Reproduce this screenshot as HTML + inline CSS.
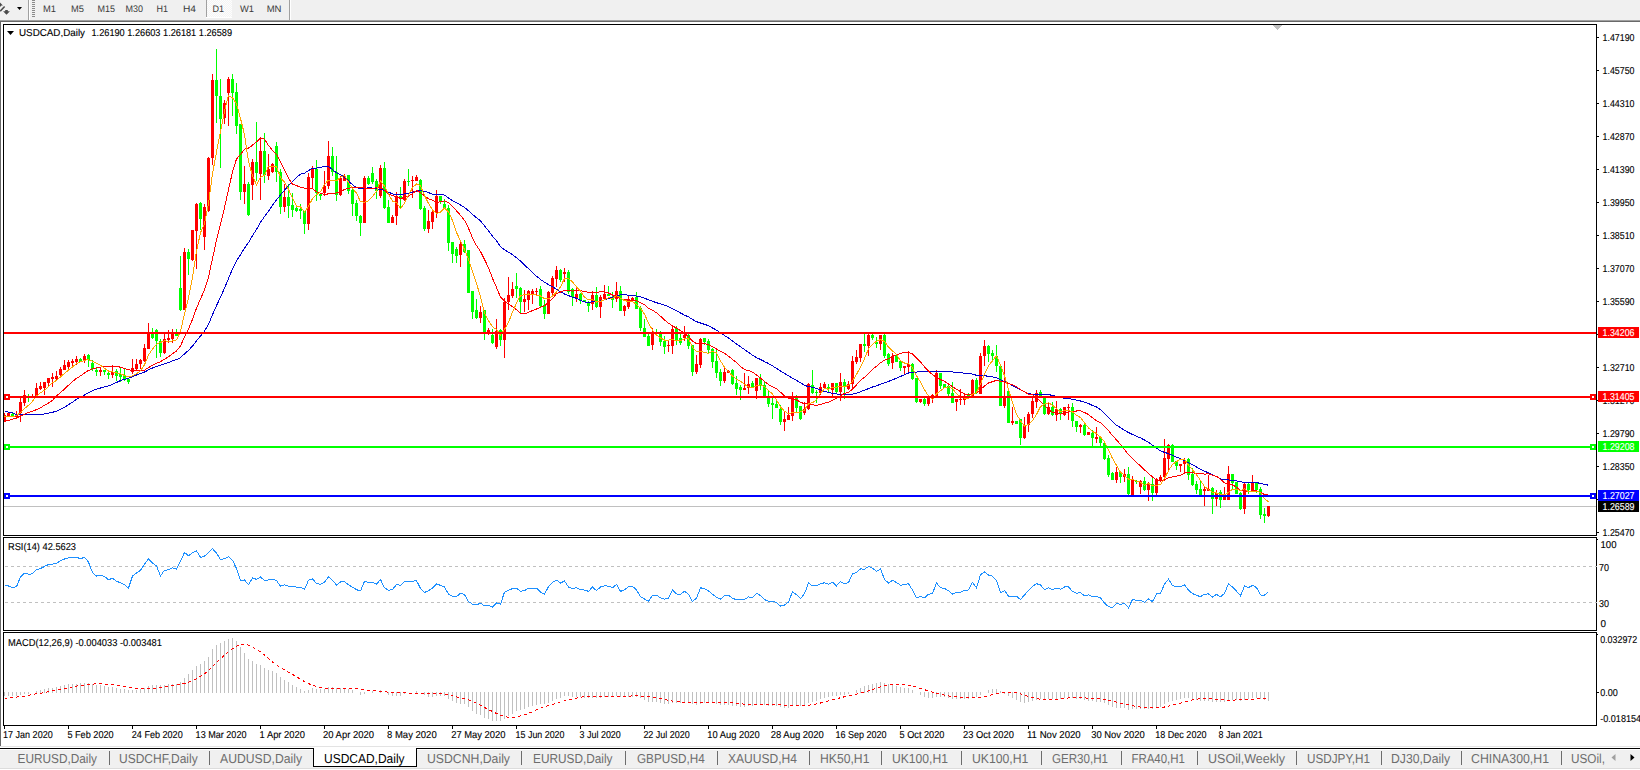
<!DOCTYPE html>
<html><head><meta charset="utf-8"><title>USDCAD,Daily</title>
<style>html,body{margin:0;padding:0;background:#fff;overflow:hidden}svg{display:block}text{font-family:"Liberation Sans",sans-serif;text-rendering:geometricPrecision}</style>
</head><body><svg width="1640" height="770" viewBox="0 0 1640 770" font-family="Liberation Sans, sans-serif"><rect x="0" y="0" width="1640" height="770" fill="#ffffff"/><rect x="0" y="0" width="1640" height="20" fill="#f0f0f0"/><rect x="0" y="20" width="1640" height="1" fill="#a0a0a0"/><rect x="0" y="21" width="1640" height="1" fill="#696969"/><rect x="0" y="21" width="1" height="726" fill="#696969"/><path d="M0 2.6 L2.9 5.6 L1.4 5.6 L0 7 Z" fill="#4a4a4a"/><path d="M0.2 11.2 L4.6 6.4" stroke="#4a4a4a" stroke-width="1.5"/><path d="M5.2 10.1 L7.8 10.1 L7.8 11.2 L9.9 11.2 L6.5 14.8 L3.1 11.2 L5.2 11.2 Z" fill="#4a4a4a"/><path d="M17 7 L22 7 L19.5 10 Z" fill="#000"/><rect x="28" y="0" width="1" height="20" fill="#a0a0a0"/><rect x="29" y="0" width="1" height="20" fill="#ffffff"/><rect x="32" y="0" width="3" height="1" fill="#8a8a8a"/><rect x="32" y="2" width="3" height="1" fill="#8a8a8a"/><rect x="32" y="4" width="3" height="1" fill="#8a8a8a"/><rect x="32" y="6" width="3" height="1" fill="#8a8a8a"/><rect x="32" y="8" width="3" height="1" fill="#8a8a8a"/><rect x="32" y="10" width="3" height="1" fill="#8a8a8a"/><rect x="32" y="12" width="3" height="1" fill="#8a8a8a"/><rect x="32" y="14" width="3" height="1" fill="#8a8a8a"/><rect x="32" y="16" width="3" height="1" fill="#8a8a8a"/><defs><pattern id="chk" width="2" height="2" patternUnits="userSpaceOnUse"><rect width="2" height="2" fill="#f4f4f4"/><rect width="1" height="1" fill="#fdfdfd"/><rect x="1" y="1" width="1" height="1" fill="#fdfdfd"/></pattern></defs><rect x="207" y="0" width="25" height="18" fill="url(#chk)"/><rect x="206" y="0" width="1" height="18" fill="#a0a0a0"/><rect x="206" y="17" width="26" height="1" fill="#ffffff"/><rect x="289" y="0" width="1" height="20" fill="#a0a0a0"/><rect x="290" y="0" width="1" height="20" fill="#ffffff"/><text x="43" y="12" font-size="9.5" fill="#3a3a3a" textLength="13" lengthAdjust="spacingAndGlyphs" >M1</text><text x="71" y="12" font-size="9.5" fill="#3a3a3a" textLength="13" lengthAdjust="spacingAndGlyphs" >M5</text><text x="97.5" y="12" font-size="9.5" fill="#3a3a3a" textLength="17.5" lengthAdjust="spacingAndGlyphs" >M15</text><text x="125.5" y="12" font-size="9.5" fill="#3a3a3a" textLength="17.5" lengthAdjust="spacingAndGlyphs" >M30</text><text x="156.5" y="12" font-size="9.5" fill="#3a3a3a" textLength="11.5" lengthAdjust="spacingAndGlyphs" >H1</text><text x="183" y="12" font-size="9.5" fill="#3a3a3a" textLength="13" lengthAdjust="spacingAndGlyphs" >H4</text><text x="212.5" y="12" font-size="9.5" fill="#3a3a3a" textLength="11.5" lengthAdjust="spacingAndGlyphs" >D1</text><text x="240" y="12" font-size="9.5" fill="#3a3a3a" textLength="14" lengthAdjust="spacingAndGlyphs" >W1</text><text x="266.7" y="12" font-size="9.5" fill="#3a3a3a" textLength="14.8" lengthAdjust="spacingAndGlyphs" >MN</text><rect x="3" y="24" width="1594" height="1" fill="#000"/><rect x="3" y="535" width="1594" height="1" fill="#000"/><rect x="3" y="24" width="1" height="512" fill="#000"/><rect x="1596" y="24" width="1" height="512" fill="#000"/><rect x="3" y="537" width="1594" height="1" fill="#000"/><rect x="3" y="630" width="1594" height="1" fill="#000"/><rect x="3" y="537" width="1" height="94" fill="#000"/><rect x="1596" y="537" width="1" height="94" fill="#000"/><rect x="3" y="632" width="1594" height="1" fill="#000"/><rect x="3" y="725" width="1594" height="1" fill="#000"/><rect x="3" y="632" width="1" height="94" fill="#000"/><rect x="1596" y="632" width="1" height="94" fill="#000"/><defs><clipPath id="cm"><rect x="4" y="25" width="1592" height="510"/></clipPath><clipPath id="cr"><rect x="4" y="538" width="1592" height="92"/></clipPath><clipPath id="cd"><rect x="4" y="633" width="1592" height="92"/></clipPath></defs><g clip-path="url(#cm)" shape-rendering="crispEdges"><rect x="4" y="506" width="1593" height="1" fill="#c0c0c0"/><rect x="4" y="413" width="1" height="9" fill="#ff0000"/><rect x="3" y="415" width="3" height="6" fill="#ff0000"/><rect x="8" y="413" width="1" height="3" fill="#ff0000"/><rect x="7" y="413" width="3" height="3" fill="#ff0000"/><rect x="12" y="412" width="1" height="5" fill="#00ff00"/><rect x="11" y="414" width="3" height="3" fill="#00ff00"/><rect x="16" y="411" width="1" height="8" fill="#ff0000"/><rect x="15" y="415" width="3" height="2" fill="#ff0000"/><rect x="20" y="398" width="1" height="24" fill="#ff0000"/><rect x="19" y="402" width="3" height="11" fill="#ff0000"/><rect x="24" y="390" width="1" height="16" fill="#ff0000"/><rect x="23" y="395" width="3" height="8" fill="#ff0000"/><rect x="28" y="394" width="1" height="8" fill="#00ff00"/><rect x="27" y="396" width="3" height="1" fill="#00ff00"/><rect x="32" y="394" width="1" height="3" fill="#ff0000"/><rect x="31" y="396" width="3" height="1" fill="#ff0000"/><rect x="36" y="383" width="1" height="13" fill="#ff0000"/><rect x="35" y="388" width="3" height="8" fill="#ff0000"/><rect x="40" y="382" width="1" height="8" fill="#ff0000"/><rect x="39" y="386" width="3" height="3" fill="#ff0000"/><rect x="44" y="382" width="1" height="13" fill="#ff0000"/><rect x="43" y="382" width="3" height="6" fill="#ff0000"/><rect x="48" y="378" width="1" height="8" fill="#ff0000"/><rect x="47" y="378" width="3" height="5" fill="#ff0000"/><rect x="52" y="373" width="1" height="14" fill="#ff0000"/><rect x="51" y="377" width="3" height="2" fill="#ff0000"/><rect x="56" y="371" width="1" height="9" fill="#ff0000"/><rect x="55" y="376" width="3" height="3" fill="#ff0000"/><rect x="60" y="367" width="1" height="9" fill="#ff0000"/><rect x="59" y="369" width="3" height="6" fill="#ff0000"/><rect x="64" y="360" width="1" height="10" fill="#ff0000"/><rect x="63" y="365" width="3" height="5" fill="#ff0000"/><rect x="68" y="360" width="1" height="10" fill="#ff0000"/><rect x="67" y="362" width="3" height="5" fill="#ff0000"/><rect x="72" y="359" width="1" height="8" fill="#ff0000"/><rect x="71" y="361" width="3" height="2" fill="#ff0000"/><rect x="76" y="356" width="1" height="9" fill="#ff0000"/><rect x="75" y="359" width="3" height="3" fill="#ff0000"/><rect x="80" y="358" width="1" height="4" fill="#00ff00"/><rect x="79" y="359" width="3" height="3" fill="#00ff00"/><rect x="84" y="354" width="1" height="9" fill="#ff0000"/><rect x="83" y="356" width="3" height="4" fill="#ff0000"/><rect x="88" y="354" width="1" height="13" fill="#00ff00"/><rect x="87" y="355" width="3" height="5" fill="#00ff00"/><rect x="92" y="360" width="1" height="11" fill="#00ff00"/><rect x="91" y="363" width="3" height="6" fill="#00ff00"/><rect x="96" y="367" width="1" height="9" fill="#00ff00"/><rect x="95" y="370" width="3" height="2" fill="#00ff00"/><rect x="100" y="367" width="1" height="9" fill="#ff0000"/><rect x="99" y="370" width="3" height="2" fill="#ff0000"/><rect x="104" y="370" width="1" height="5" fill="#00ff00"/><rect x="103" y="370" width="3" height="2" fill="#00ff00"/><rect x="108" y="372" width="1" height="7" fill="#00ff00"/><rect x="107" y="373" width="3" height="2" fill="#00ff00"/><rect x="112" y="365" width="1" height="13" fill="#ff0000"/><rect x="111" y="372" width="3" height="3" fill="#ff0000"/><rect x="116" y="369" width="1" height="12" fill="#00ff00"/><rect x="115" y="371" width="3" height="5" fill="#00ff00"/><rect x="120" y="368" width="1" height="14" fill="#00ff00"/><rect x="119" y="374" width="3" height="3" fill="#00ff00"/><rect x="124" y="369" width="1" height="12" fill="#00ff00"/><rect x="123" y="376" width="3" height="3" fill="#00ff00"/><rect x="128" y="378" width="1" height="6" fill="#00ff00"/><rect x="127" y="379" width="3" height="3" fill="#00ff00"/><rect x="132" y="359" width="1" height="15" fill="#ff0000"/><rect x="131" y="368" width="3" height="4" fill="#ff0000"/><rect x="136" y="359" width="1" height="11" fill="#ff0000"/><rect x="135" y="364" width="3" height="5" fill="#ff0000"/><rect x="140" y="359" width="1" height="10" fill="#ff0000"/><rect x="139" y="360" width="3" height="4" fill="#ff0000"/><rect x="144" y="344" width="1" height="18" fill="#ff0000"/><rect x="143" y="348" width="3" height="13" fill="#ff0000"/><rect x="148" y="323" width="1" height="26" fill="#ff0000"/><rect x="147" y="333" width="3" height="16" fill="#ff0000"/><rect x="152" y="328" width="1" height="11" fill="#00ff00"/><rect x="151" y="334" width="3" height="4" fill="#00ff00"/><rect x="156" y="329" width="1" height="29" fill="#00ff00"/><rect x="155" y="330" width="3" height="11" fill="#00ff00"/><rect x="160" y="339" width="1" height="18" fill="#00ff00"/><rect x="159" y="341" width="3" height="12" fill="#00ff00"/><rect x="164" y="334" width="1" height="20" fill="#ff0000"/><rect x="163" y="339" width="3" height="14" fill="#ff0000"/><rect x="168" y="330" width="1" height="13" fill="#ff0000"/><rect x="167" y="338" width="3" height="2" fill="#ff0000"/><rect x="172" y="329" width="1" height="14" fill="#ff0000"/><rect x="171" y="333" width="3" height="6" fill="#ff0000"/><rect x="176" y="329" width="1" height="7" fill="#00ff00"/><rect x="175" y="333" width="3" height="3" fill="#00ff00"/><rect x="180" y="256" width="1" height="55" fill="#00ff00"/><rect x="179" y="288" width="3" height="22" fill="#00ff00"/><rect x="184" y="248" width="1" height="62" fill="#ff0000"/><rect x="183" y="252" width="3" height="58" fill="#ff0000"/><rect x="188" y="249" width="1" height="26" fill="#00ff00"/><rect x="187" y="252" width="3" height="7" fill="#00ff00"/><rect x="192" y="230" width="1" height="31" fill="#ff0000"/><rect x="191" y="230" width="3" height="30" fill="#ff0000"/><rect x="196" y="203" width="1" height="66" fill="#ff0000"/><rect x="195" y="204" width="3" height="27" fill="#ff0000"/><rect x="200" y="202" width="1" height="28" fill="#00ff00"/><rect x="199" y="203" width="3" height="16" fill="#00ff00"/><rect x="204" y="204" width="1" height="46" fill="#ff0000"/><rect x="203" y="207" width="3" height="30" fill="#ff0000"/><rect x="208" y="157" width="1" height="55" fill="#ff0000"/><rect x="207" y="158" width="3" height="53" fill="#ff0000"/><rect x="212" y="74" width="1" height="91" fill="#ff0000"/><rect x="211" y="80" width="3" height="78" fill="#ff0000"/><rect x="216" y="49" width="1" height="74" fill="#00ff00"/><rect x="215" y="80" width="3" height="16" fill="#00ff00"/><rect x="220" y="79" width="1" height="89" fill="#00ff00"/><rect x="219" y="96" width="3" height="23" fill="#00ff00"/><rect x="224" y="100" width="1" height="24" fill="#ff0000"/><rect x="223" y="103" width="3" height="15" fill="#ff0000"/><rect x="228" y="77" width="1" height="49" fill="#ff0000"/><rect x="227" y="79" width="3" height="14" fill="#ff0000"/><rect x="232" y="74" width="1" height="42" fill="#00ff00"/><rect x="231" y="79" width="3" height="14" fill="#00ff00"/><rect x="236" y="83" width="1" height="51" fill="#00ff00"/><rect x="235" y="92" width="3" height="34" fill="#00ff00"/><rect x="240" y="124" width="1" height="76" fill="#00ff00"/><rect x="239" y="124" width="3" height="68" fill="#00ff00"/><rect x="244" y="166" width="1" height="38" fill="#ff0000"/><rect x="243" y="184" width="3" height="8" fill="#ff0000"/><rect x="248" y="182" width="1" height="34" fill="#00ff00"/><rect x="247" y="184" width="3" height="31" fill="#00ff00"/><rect x="252" y="159" width="1" height="41" fill="#ff0000"/><rect x="251" y="162" width="3" height="23" fill="#ff0000"/><rect x="256" y="122" width="1" height="59" fill="#00ff00"/><rect x="255" y="162" width="3" height="11" fill="#00ff00"/><rect x="260" y="137" width="1" height="63" fill="#ff0000"/><rect x="259" y="151" width="3" height="23" fill="#ff0000"/><rect x="264" y="133" width="1" height="50" fill="#00ff00"/><rect x="263" y="151" width="3" height="24" fill="#00ff00"/><rect x="268" y="154" width="1" height="26" fill="#ff0000"/><rect x="267" y="169" width="3" height="7" fill="#ff0000"/><rect x="272" y="163" width="1" height="10" fill="#ff0000"/><rect x="271" y="164" width="3" height="8" fill="#ff0000"/><rect x="276" y="142" width="1" height="40" fill="#00ff00"/><rect x="275" y="146" width="3" height="26" fill="#00ff00"/><rect x="280" y="169" width="1" height="45" fill="#00ff00"/><rect x="279" y="172" width="3" height="35" fill="#00ff00"/><rect x="284" y="184" width="1" height="28" fill="#ff0000"/><rect x="283" y="197" width="3" height="10" fill="#ff0000"/><rect x="288" y="184" width="1" height="34" fill="#00ff00"/><rect x="287" y="197" width="3" height="9" fill="#00ff00"/><rect x="292" y="193" width="1" height="24" fill="#00ff00"/><rect x="291" y="205" width="3" height="5" fill="#00ff00"/><rect x="296" y="206" width="1" height="6" fill="#00ff00"/><rect x="295" y="208" width="3" height="3" fill="#00ff00"/><rect x="300" y="204" width="1" height="15" fill="#00ff00"/><rect x="299" y="209" width="3" height="2" fill="#00ff00"/><rect x="304" y="211" width="1" height="23" fill="#00ff00"/><rect x="303" y="211" width="3" height="13" fill="#00ff00"/><rect x="308" y="173" width="1" height="57" fill="#ff0000"/><rect x="307" y="177" width="3" height="47" fill="#ff0000"/><rect x="312" y="166" width="1" height="23" fill="#ff0000"/><rect x="311" y="169" width="3" height="9" fill="#ff0000"/><rect x="316" y="160" width="1" height="41" fill="#00ff00"/><rect x="315" y="169" width="3" height="24" fill="#00ff00"/><rect x="320" y="194" width="1" height="6" fill="#00ff00"/><rect x="319" y="194" width="3" height="2" fill="#00ff00"/><rect x="324" y="171" width="1" height="25" fill="#ff0000"/><rect x="323" y="186" width="3" height="7" fill="#ff0000"/><rect x="328" y="141" width="1" height="48" fill="#ff0000"/><rect x="327" y="156" width="3" height="30" fill="#ff0000"/><rect x="332" y="147" width="1" height="29" fill="#00ff00"/><rect x="331" y="156" width="3" height="16" fill="#00ff00"/><rect x="336" y="156" width="1" height="45" fill="#00ff00"/><rect x="335" y="172" width="3" height="23" fill="#00ff00"/><rect x="340" y="176" width="1" height="20" fill="#ff0000"/><rect x="339" y="178" width="3" height="17" fill="#ff0000"/><rect x="344" y="174" width="1" height="7" fill="#ff0000"/><rect x="343" y="176" width="3" height="5" fill="#ff0000"/><rect x="348" y="175" width="1" height="19" fill="#00ff00"/><rect x="347" y="175" width="3" height="16" fill="#00ff00"/><rect x="352" y="189" width="1" height="27" fill="#00ff00"/><rect x="351" y="190" width="3" height="14" fill="#00ff00"/><rect x="356" y="200" width="1" height="21" fill="#00ff00"/><rect x="355" y="203" width="3" height="13" fill="#00ff00"/><rect x="360" y="215" width="1" height="21" fill="#00ff00"/><rect x="359" y="216" width="3" height="7" fill="#00ff00"/><rect x="364" y="176" width="1" height="47" fill="#ff0000"/><rect x="363" y="178" width="3" height="45" fill="#ff0000"/><rect x="368" y="176" width="1" height="9" fill="#00ff00"/><rect x="367" y="178" width="3" height="6" fill="#00ff00"/><rect x="372" y="167" width="1" height="17" fill="#00ff00"/><rect x="371" y="173" width="3" height="9" fill="#00ff00"/><rect x="376" y="179" width="1" height="20" fill="#00ff00"/><rect x="375" y="181" width="3" height="10" fill="#00ff00"/><rect x="380" y="165" width="1" height="33" fill="#ff0000"/><rect x="379" y="168" width="3" height="28" fill="#ff0000"/><rect x="384" y="162" width="1" height="47" fill="#00ff00"/><rect x="383" y="168" width="3" height="40" fill="#00ff00"/><rect x="388" y="200" width="1" height="23" fill="#00ff00"/><rect x="387" y="207" width="3" height="16" fill="#00ff00"/><rect x="392" y="215" width="1" height="8" fill="#ff0000"/><rect x="391" y="217" width="3" height="6" fill="#ff0000"/><rect x="396" y="192" width="1" height="33" fill="#ff0000"/><rect x="395" y="196" width="3" height="20" fill="#ff0000"/><rect x="400" y="187" width="1" height="21" fill="#00ff00"/><rect x="399" y="196" width="3" height="3" fill="#00ff00"/><rect x="404" y="179" width="1" height="22" fill="#ff0000"/><rect x="403" y="181" width="3" height="19" fill="#ff0000"/><rect x="408" y="169" width="1" height="17" fill="#00ff00"/><rect x="407" y="181" width="3" height="1" fill="#00ff00"/><rect x="412" y="176" width="1" height="22" fill="#ff0000"/><rect x="411" y="180" width="3" height="1" fill="#ff0000"/><rect x="416" y="175" width="1" height="6" fill="#ff0000"/><rect x="415" y="177" width="3" height="4" fill="#ff0000"/><rect x="420" y="179" width="1" height="31" fill="#00ff00"/><rect x="419" y="180" width="3" height="29" fill="#00ff00"/><rect x="424" y="206" width="1" height="25" fill="#00ff00"/><rect x="423" y="208" width="3" height="21" fill="#00ff00"/><rect x="428" y="210" width="1" height="23" fill="#ff0000"/><rect x="427" y="221" width="3" height="8" fill="#ff0000"/><rect x="432" y="209" width="1" height="20" fill="#ff0000"/><rect x="431" y="212" width="3" height="10" fill="#ff0000"/><rect x="436" y="190" width="1" height="28" fill="#ff0000"/><rect x="435" y="196" width="3" height="17" fill="#ff0000"/><rect x="440" y="196" width="1" height="8" fill="#00ff00"/><rect x="439" y="196" width="3" height="6" fill="#00ff00"/><rect x="444" y="199" width="1" height="10" fill="#00ff00"/><rect x="443" y="204" width="3" height="5" fill="#00ff00"/><rect x="448" y="205" width="1" height="46" fill="#00ff00"/><rect x="447" y="208" width="3" height="35" fill="#00ff00"/><rect x="452" y="242" width="1" height="21" fill="#00ff00"/><rect x="451" y="242" width="3" height="12" fill="#00ff00"/><rect x="456" y="247" width="1" height="16" fill="#00ff00"/><rect x="455" y="249" width="3" height="7" fill="#00ff00"/><rect x="460" y="242" width="1" height="25" fill="#ff0000"/><rect x="459" y="244" width="3" height="11" fill="#ff0000"/><rect x="464" y="240" width="1" height="13" fill="#00ff00"/><rect x="463" y="244" width="3" height="8" fill="#00ff00"/><rect x="468" y="250" width="1" height="43" fill="#00ff00"/><rect x="467" y="250" width="3" height="43" fill="#00ff00"/><rect x="472" y="291" width="1" height="28" fill="#00ff00"/><rect x="471" y="291" width="3" height="21" fill="#00ff00"/><rect x="476" y="299" width="1" height="20" fill="#00ff00"/><rect x="475" y="310" width="3" height="8" fill="#00ff00"/><rect x="480" y="306" width="1" height="17" fill="#ff0000"/><rect x="479" y="312" width="3" height="6" fill="#ff0000"/><rect x="484" y="310" width="1" height="30" fill="#00ff00"/><rect x="483" y="310" width="3" height="22" fill="#00ff00"/><rect x="488" y="328" width="1" height="7" fill="#ff0000"/><rect x="487" y="330" width="3" height="4" fill="#ff0000"/><rect x="492" y="329" width="1" height="15" fill="#00ff00"/><rect x="491" y="335" width="3" height="8" fill="#00ff00"/><rect x="496" y="319" width="1" height="30" fill="#ff0000"/><rect x="495" y="331" width="3" height="16" fill="#ff0000"/><rect x="500" y="329" width="1" height="17" fill="#00ff00"/><rect x="499" y="330" width="3" height="10" fill="#00ff00"/><rect x="504" y="298" width="1" height="60" fill="#ff0000"/><rect x="503" y="302" width="3" height="38" fill="#ff0000"/><rect x="508" y="277" width="1" height="33" fill="#ff0000"/><rect x="507" y="295" width="3" height="7" fill="#ff0000"/><rect x="512" y="282" width="1" height="16" fill="#ff0000"/><rect x="511" y="289" width="3" height="7" fill="#ff0000"/><rect x="516" y="273" width="1" height="25" fill="#00ff00"/><rect x="515" y="286" width="3" height="3" fill="#00ff00"/><rect x="520" y="287" width="1" height="27" fill="#00ff00"/><rect x="519" y="288" width="3" height="14" fill="#00ff00"/><rect x="524" y="290" width="1" height="22" fill="#ff0000"/><rect x="523" y="299" width="3" height="3" fill="#ff0000"/><rect x="528" y="290" width="1" height="20" fill="#ff0000"/><rect x="527" y="291" width="3" height="9" fill="#ff0000"/><rect x="532" y="289" width="1" height="15" fill="#ff0000"/><rect x="531" y="291" width="3" height="4" fill="#ff0000"/><rect x="536" y="288" width="1" height="7" fill="#ff0000"/><rect x="535" y="291" width="3" height="1" fill="#ff0000"/><rect x="540" y="286" width="1" height="22" fill="#00ff00"/><rect x="539" y="289" width="3" height="17" fill="#00ff00"/><rect x="544" y="300" width="1" height="19" fill="#00ff00"/><rect x="543" y="305" width="3" height="9" fill="#00ff00"/><rect x="548" y="291" width="1" height="23" fill="#ff0000"/><rect x="547" y="292" width="3" height="22" fill="#ff0000"/><rect x="552" y="276" width="1" height="20" fill="#ff0000"/><rect x="551" y="278" width="3" height="15" fill="#ff0000"/><rect x="556" y="266" width="1" height="21" fill="#ff0000"/><rect x="555" y="270" width="3" height="9" fill="#ff0000"/><rect x="560" y="269" width="1" height="13" fill="#00ff00"/><rect x="559" y="270" width="3" height="10" fill="#00ff00"/><rect x="564" y="268" width="1" height="14" fill="#ff0000"/><rect x="563" y="272" width="3" height="2" fill="#ff0000"/><rect x="568" y="270" width="1" height="24" fill="#00ff00"/><rect x="567" y="272" width="3" height="20" fill="#00ff00"/><rect x="572" y="288" width="1" height="18" fill="#00ff00"/><rect x="571" y="289" width="3" height="8" fill="#00ff00"/><rect x="576" y="287" width="1" height="15" fill="#ff0000"/><rect x="575" y="294" width="3" height="5" fill="#ff0000"/><rect x="580" y="293" width="1" height="11" fill="#00ff00"/><rect x="579" y="294" width="3" height="7" fill="#00ff00"/><rect x="584" y="300" width="1" height="2" fill="#00ff00"/><rect x="583" y="300" width="3" height="2" fill="#00ff00"/><rect x="588" y="301" width="1" height="11" fill="#00ff00"/><rect x="587" y="303" width="3" height="3" fill="#00ff00"/><rect x="592" y="291" width="1" height="19" fill="#ff0000"/><rect x="591" y="295" width="3" height="9" fill="#ff0000"/><rect x="596" y="287" width="1" height="21" fill="#00ff00"/><rect x="595" y="295" width="3" height="12" fill="#00ff00"/><rect x="600" y="295" width="1" height="23" fill="#ff0000"/><rect x="599" y="297" width="3" height="10" fill="#ff0000"/><rect x="604" y="285" width="1" height="15" fill="#ff0000"/><rect x="603" y="294" width="3" height="5" fill="#ff0000"/><rect x="608" y="286" width="1" height="10" fill="#00ff00"/><rect x="607" y="294" width="3" height="2" fill="#00ff00"/><rect x="612" y="292" width="1" height="16" fill="#00ff00"/><rect x="611" y="298" width="3" height="2" fill="#00ff00"/><rect x="616" y="282" width="1" height="20" fill="#ff0000"/><rect x="615" y="291" width="3" height="8" fill="#ff0000"/><rect x="620" y="286" width="1" height="25" fill="#00ff00"/><rect x="619" y="291" width="3" height="20" fill="#00ff00"/><rect x="624" y="305" width="1" height="11" fill="#ff0000"/><rect x="623" y="306" width="3" height="5" fill="#ff0000"/><rect x="628" y="296" width="1" height="13" fill="#ff0000"/><rect x="627" y="299" width="3" height="8" fill="#ff0000"/><rect x="632" y="297" width="1" height="4" fill="#ff0000"/><rect x="631" y="298" width="3" height="2" fill="#ff0000"/><rect x="636" y="292" width="1" height="17" fill="#00ff00"/><rect x="635" y="297" width="3" height="12" fill="#00ff00"/><rect x="640" y="306" width="1" height="25" fill="#00ff00"/><rect x="639" y="308" width="3" height="20" fill="#00ff00"/><rect x="644" y="319" width="1" height="18" fill="#00ff00"/><rect x="643" y="328" width="3" height="9" fill="#00ff00"/><rect x="648" y="334" width="1" height="12" fill="#00ff00"/><rect x="647" y="336" width="3" height="10" fill="#00ff00"/><rect x="652" y="328" width="1" height="22" fill="#ff0000"/><rect x="651" y="332" width="3" height="13" fill="#ff0000"/><rect x="656" y="329" width="1" height="6" fill="#00ff00"/><rect x="655" y="332" width="3" height="2" fill="#00ff00"/><rect x="660" y="331" width="1" height="15" fill="#00ff00"/><rect x="659" y="333" width="3" height="9" fill="#00ff00"/><rect x="664" y="336" width="1" height="18" fill="#00ff00"/><rect x="663" y="341" width="3" height="6" fill="#00ff00"/><rect x="668" y="341" width="1" height="11" fill="#ff0000"/><rect x="667" y="345" width="3" height="1" fill="#ff0000"/><rect x="672" y="325" width="1" height="29" fill="#ff0000"/><rect x="671" y="329" width="3" height="17" fill="#ff0000"/><rect x="676" y="326" width="1" height="19" fill="#00ff00"/><rect x="675" y="328" width="3" height="13" fill="#00ff00"/><rect x="680" y="334" width="1" height="11" fill="#00ff00"/><rect x="679" y="338" width="3" height="5" fill="#00ff00"/><rect x="684" y="326" width="1" height="15" fill="#ff0000"/><rect x="683" y="335" width="3" height="3" fill="#ff0000"/><rect x="688" y="334" width="1" height="15" fill="#00ff00"/><rect x="687" y="335" width="3" height="11" fill="#00ff00"/><rect x="692" y="345" width="1" height="31" fill="#00ff00"/><rect x="691" y="345" width="3" height="27" fill="#00ff00"/><rect x="696" y="355" width="1" height="19" fill="#ff0000"/><rect x="695" y="364" width="3" height="8" fill="#ff0000"/><rect x="700" y="338" width="1" height="30" fill="#ff0000"/><rect x="699" y="339" width="3" height="26" fill="#ff0000"/><rect x="704" y="338" width="1" height="7" fill="#00ff00"/><rect x="703" y="338" width="3" height="4" fill="#00ff00"/><rect x="708" y="339" width="1" height="14" fill="#00ff00"/><rect x="707" y="341" width="3" height="9" fill="#00ff00"/><rect x="712" y="348" width="1" height="20" fill="#00ff00"/><rect x="711" y="349" width="3" height="13" fill="#00ff00"/><rect x="716" y="349" width="1" height="29" fill="#00ff00"/><rect x="715" y="361" width="3" height="12" fill="#00ff00"/><rect x="720" y="369" width="1" height="17" fill="#00ff00"/><rect x="719" y="372" width="3" height="9" fill="#00ff00"/><rect x="724" y="368" width="1" height="15" fill="#ff0000"/><rect x="723" y="372" width="3" height="9" fill="#ff0000"/><rect x="728" y="370" width="1" height="3" fill="#ff0000"/><rect x="727" y="371" width="3" height="2" fill="#ff0000"/><rect x="732" y="369" width="1" height="16" fill="#00ff00"/><rect x="731" y="370" width="3" height="14" fill="#00ff00"/><rect x="736" y="376" width="1" height="19" fill="#00ff00"/><rect x="735" y="383" width="3" height="6" fill="#00ff00"/><rect x="740" y="385" width="1" height="15" fill="#00ff00"/><rect x="739" y="387" width="3" height="3" fill="#00ff00"/><rect x="744" y="373" width="1" height="17" fill="#ff0000"/><rect x="743" y="388" width="3" height="2" fill="#ff0000"/><rect x="748" y="376" width="1" height="18" fill="#ff0000"/><rect x="747" y="384" width="3" height="4" fill="#ff0000"/><rect x="752" y="381" width="1" height="6" fill="#00ff00"/><rect x="751" y="383" width="3" height="4" fill="#00ff00"/><rect x="756" y="378" width="1" height="21" fill="#ff0000"/><rect x="755" y="378" width="3" height="13" fill="#ff0000"/><rect x="760" y="374" width="1" height="16" fill="#00ff00"/><rect x="759" y="378" width="3" height="8" fill="#00ff00"/><rect x="764" y="382" width="1" height="16" fill="#00ff00"/><rect x="763" y="385" width="3" height="13" fill="#00ff00"/><rect x="768" y="391" width="1" height="16" fill="#00ff00"/><rect x="767" y="398" width="3" height="6" fill="#00ff00"/><rect x="772" y="398" width="1" height="21" fill="#00ff00"/><rect x="771" y="403" width="3" height="2" fill="#00ff00"/><rect x="776" y="400" width="1" height="8" fill="#00ff00"/><rect x="775" y="404" width="3" height="4" fill="#00ff00"/><rect x="780" y="405" width="1" height="20" fill="#00ff00"/><rect x="779" y="409" width="3" height="13" fill="#00ff00"/><rect x="784" y="412" width="1" height="19" fill="#ff0000"/><rect x="783" y="419" width="3" height="3" fill="#ff0000"/><rect x="788" y="407" width="1" height="13" fill="#ff0000"/><rect x="787" y="415" width="3" height="5" fill="#ff0000"/><rect x="792" y="392" width="1" height="29" fill="#ff0000"/><rect x="791" y="398" width="3" height="18" fill="#ff0000"/><rect x="796" y="395" width="1" height="17" fill="#00ff00"/><rect x="795" y="398" width="3" height="10" fill="#00ff00"/><rect x="800" y="406" width="1" height="14" fill="#00ff00"/><rect x="799" y="406" width="3" height="13" fill="#00ff00"/><rect x="804" y="402" width="1" height="13" fill="#ff0000"/><rect x="803" y="409" width="3" height="4" fill="#ff0000"/><rect x="808" y="383" width="1" height="27" fill="#ff0000"/><rect x="807" y="384" width="3" height="25" fill="#ff0000"/><rect x="812" y="370" width="1" height="24" fill="#00ff00"/><rect x="811" y="385" width="3" height="8" fill="#00ff00"/><rect x="816" y="390" width="1" height="13" fill="#00ff00"/><rect x="815" y="392" width="3" height="1" fill="#00ff00"/><rect x="820" y="383" width="1" height="12" fill="#ff0000"/><rect x="819" y="387" width="3" height="6" fill="#ff0000"/><rect x="824" y="382" width="1" height="7" fill="#ff0000"/><rect x="823" y="384" width="3" height="4" fill="#ff0000"/><rect x="828" y="384" width="1" height="8" fill="#00ff00"/><rect x="827" y="387" width="3" height="2" fill="#00ff00"/><rect x="832" y="383" width="1" height="15" fill="#ff0000"/><rect x="831" y="383" width="3" height="7" fill="#ff0000"/><rect x="836" y="383" width="1" height="11" fill="#00ff00"/><rect x="835" y="383" width="3" height="9" fill="#00ff00"/><rect x="840" y="373" width="1" height="28" fill="#ff0000"/><rect x="839" y="382" width="3" height="10" fill="#ff0000"/><rect x="844" y="379" width="1" height="20" fill="#00ff00"/><rect x="843" y="382" width="3" height="5" fill="#00ff00"/><rect x="848" y="381" width="1" height="9" fill="#ff0000"/><rect x="847" y="384" width="3" height="5" fill="#ff0000"/><rect x="852" y="356" width="1" height="34" fill="#ff0000"/><rect x="851" y="361" width="3" height="23" fill="#ff0000"/><rect x="856" y="350" width="1" height="14" fill="#ff0000"/><rect x="855" y="357" width="3" height="5" fill="#ff0000"/><rect x="860" y="344" width="1" height="18" fill="#ff0000"/><rect x="859" y="344" width="3" height="14" fill="#ff0000"/><rect x="864" y="334" width="1" height="18" fill="#00ff00"/><rect x="863" y="344" width="3" height="2" fill="#00ff00"/><rect x="868" y="334" width="1" height="22" fill="#ff0000"/><rect x="867" y="335" width="3" height="11" fill="#ff0000"/><rect x="872" y="334" width="1" height="6" fill="#00ff00"/><rect x="871" y="335" width="3" height="3" fill="#00ff00"/><rect x="876" y="337" width="1" height="11" fill="#00ff00"/><rect x="875" y="342" width="3" height="2" fill="#00ff00"/><rect x="880" y="335" width="1" height="15" fill="#ff0000"/><rect x="879" y="335" width="3" height="9" fill="#ff0000"/><rect x="884" y="334" width="1" height="24" fill="#00ff00"/><rect x="883" y="335" width="3" height="21" fill="#00ff00"/><rect x="888" y="353" width="1" height="13" fill="#00ff00"/><rect x="887" y="354" width="3" height="10" fill="#00ff00"/><rect x="892" y="353" width="1" height="16" fill="#ff0000"/><rect x="891" y="356" width="3" height="7" fill="#ff0000"/><rect x="896" y="355" width="1" height="7" fill="#00ff00"/><rect x="895" y="356" width="3" height="6" fill="#00ff00"/><rect x="900" y="360" width="1" height="11" fill="#00ff00"/><rect x="899" y="361" width="3" height="7" fill="#00ff00"/><rect x="904" y="366" width="1" height="8" fill="#ff0000"/><rect x="903" y="366" width="3" height="2" fill="#ff0000"/><rect x="908" y="351" width="1" height="22" fill="#ff0000"/><rect x="907" y="364" width="3" height="3" fill="#ff0000"/><rect x="912" y="363" width="1" height="17" fill="#00ff00"/><rect x="911" y="364" width="3" height="15" fill="#00ff00"/><rect x="916" y="378" width="1" height="25" fill="#00ff00"/><rect x="915" y="378" width="3" height="24" fill="#00ff00"/><rect x="920" y="399" width="1" height="4" fill="#ff0000"/><rect x="919" y="399" width="3" height="3" fill="#ff0000"/><rect x="924" y="398" width="1" height="8" fill="#00ff00"/><rect x="923" y="399" width="3" height="5" fill="#00ff00"/><rect x="928" y="395" width="1" height="11" fill="#ff0000"/><rect x="927" y="397" width="3" height="7" fill="#ff0000"/><rect x="932" y="394" width="1" height="9" fill="#ff0000"/><rect x="931" y="395" width="3" height="3" fill="#ff0000"/><rect x="936" y="370" width="1" height="27" fill="#ff0000"/><rect x="935" y="373" width="3" height="23" fill="#ff0000"/><rect x="940" y="373" width="1" height="16" fill="#00ff00"/><rect x="939" y="373" width="3" height="13" fill="#00ff00"/><rect x="944" y="384" width="1" height="4" fill="#00ff00"/><rect x="943" y="384" width="3" height="4" fill="#00ff00"/><rect x="948" y="385" width="1" height="11" fill="#00ff00"/><rect x="947" y="386" width="3" height="8" fill="#00ff00"/><rect x="952" y="382" width="1" height="21" fill="#00ff00"/><rect x="951" y="393" width="3" height="10" fill="#00ff00"/><rect x="956" y="399" width="1" height="12" fill="#ff0000"/><rect x="955" y="399" width="3" height="3" fill="#ff0000"/><rect x="960" y="389" width="1" height="16" fill="#ff0000"/><rect x="959" y="399" width="3" height="1" fill="#ff0000"/><rect x="964" y="394" width="1" height="11" fill="#ff0000"/><rect x="963" y="396" width="3" height="4" fill="#ff0000"/><rect x="968" y="393" width="1" height="3" fill="#00ff00"/><rect x="967" y="394" width="3" height="2" fill="#00ff00"/><rect x="972" y="379" width="1" height="18" fill="#ff0000"/><rect x="971" y="380" width="3" height="16" fill="#ff0000"/><rect x="976" y="378" width="1" height="16" fill="#00ff00"/><rect x="975" y="380" width="3" height="13" fill="#00ff00"/><rect x="980" y="353" width="1" height="41" fill="#ff0000"/><rect x="979" y="356" width="3" height="38" fill="#ff0000"/><rect x="984" y="340" width="1" height="26" fill="#ff0000"/><rect x="983" y="346" width="3" height="10" fill="#ff0000"/><rect x="988" y="345" width="1" height="17" fill="#00ff00"/><rect x="987" y="346" width="3" height="8" fill="#00ff00"/><rect x="992" y="350" width="1" height="11" fill="#00ff00"/><rect x="991" y="353" width="3" height="3" fill="#00ff00"/><rect x="996" y="345" width="1" height="27" fill="#00ff00"/><rect x="995" y="356" width="3" height="10" fill="#00ff00"/><rect x="1000" y="366" width="1" height="40" fill="#00ff00"/><rect x="999" y="366" width="3" height="40" fill="#00ff00"/><rect x="1004" y="361" width="1" height="47" fill="#ff0000"/><rect x="1003" y="398" width="3" height="8" fill="#ff0000"/><rect x="1008" y="391" width="1" height="32" fill="#00ff00"/><rect x="1007" y="391" width="3" height="32" fill="#00ff00"/><rect x="1012" y="407" width="1" height="18" fill="#ff0000"/><rect x="1011" y="421" width="3" height="2" fill="#ff0000"/><rect x="1016" y="421" width="1" height="3" fill="#00ff00"/><rect x="1015" y="421" width="3" height="3" fill="#00ff00"/><rect x="1020" y="419" width="1" height="26" fill="#00ff00"/><rect x="1019" y="419" width="3" height="19" fill="#00ff00"/><rect x="1024" y="417" width="1" height="22" fill="#ff0000"/><rect x="1023" y="426" width="3" height="12" fill="#ff0000"/><rect x="1028" y="412" width="1" height="20" fill="#ff0000"/><rect x="1027" y="414" width="3" height="11" fill="#ff0000"/><rect x="1032" y="398" width="1" height="20" fill="#ff0000"/><rect x="1031" y="401" width="3" height="13" fill="#ff0000"/><rect x="1036" y="390" width="1" height="18" fill="#ff0000"/><rect x="1035" y="393" width="3" height="9" fill="#ff0000"/><rect x="1040" y="390" width="1" height="8" fill="#00ff00"/><rect x="1039" y="392" width="3" height="6" fill="#00ff00"/><rect x="1044" y="398" width="1" height="17" fill="#00ff00"/><rect x="1043" y="398" width="3" height="16" fill="#00ff00"/><rect x="1048" y="403" width="1" height="12" fill="#ff0000"/><rect x="1047" y="407" width="3" height="7" fill="#ff0000"/><rect x="1052" y="402" width="1" height="14" fill="#00ff00"/><rect x="1051" y="407" width="3" height="8" fill="#00ff00"/><rect x="1056" y="401" width="1" height="20" fill="#ff0000"/><rect x="1055" y="409" width="3" height="6" fill="#ff0000"/><rect x="1060" y="408" width="1" height="12" fill="#00ff00"/><rect x="1059" y="409" width="3" height="5" fill="#00ff00"/><rect x="1064" y="407" width="1" height="9" fill="#ff0000"/><rect x="1063" y="407" width="3" height="8" fill="#ff0000"/><rect x="1068" y="404" width="1" height="16" fill="#ff0000"/><rect x="1067" y="407" width="3" height="1" fill="#ff0000"/><rect x="1072" y="403" width="1" height="24" fill="#00ff00"/><rect x="1071" y="407" width="3" height="14" fill="#00ff00"/><rect x="1076" y="421" width="1" height="11" fill="#00ff00"/><rect x="1075" y="421" width="3" height="6" fill="#00ff00"/><rect x="1080" y="424" width="1" height="9" fill="#ff0000"/><rect x="1079" y="425" width="3" height="2" fill="#ff0000"/><rect x="1084" y="424" width="1" height="12" fill="#00ff00"/><rect x="1083" y="425" width="3" height="10" fill="#00ff00"/><rect x="1088" y="432" width="1" height="3" fill="#ff0000"/><rect x="1087" y="432" width="3" height="3" fill="#ff0000"/><rect x="1092" y="430" width="1" height="16" fill="#00ff00"/><rect x="1091" y="433" width="3" height="5" fill="#00ff00"/><rect x="1096" y="427" width="1" height="16" fill="#ff0000"/><rect x="1095" y="437" width="3" height="2" fill="#ff0000"/><rect x="1100" y="436" width="1" height="12" fill="#00ff00"/><rect x="1099" y="437" width="3" height="6" fill="#00ff00"/><rect x="1104" y="442" width="1" height="18" fill="#00ff00"/><rect x="1103" y="443" width="3" height="16" fill="#00ff00"/><rect x="1108" y="455" width="1" height="22" fill="#00ff00"/><rect x="1107" y="458" width="3" height="17" fill="#00ff00"/><rect x="1112" y="472" width="1" height="8" fill="#00ff00"/><rect x="1111" y="473" width="3" height="7" fill="#00ff00"/><rect x="1116" y="467" width="1" height="16" fill="#ff0000"/><rect x="1115" y="472" width="3" height="8" fill="#ff0000"/><rect x="1120" y="472" width="1" height="11" fill="#00ff00"/><rect x="1119" y="472" width="3" height="5" fill="#00ff00"/><rect x="1124" y="469" width="1" height="13" fill="#ff0000"/><rect x="1123" y="474" width="3" height="3" fill="#ff0000"/><rect x="1128" y="467" width="1" height="28" fill="#00ff00"/><rect x="1127" y="474" width="3" height="20" fill="#00ff00"/><rect x="1132" y="476" width="1" height="19" fill="#ff0000"/><rect x="1131" y="479" width="3" height="16" fill="#ff0000"/><rect x="1136" y="480" width="1" height="4" fill="#00ff00"/><rect x="1135" y="481" width="3" height="1" fill="#00ff00"/><rect x="1140" y="480" width="1" height="14" fill="#ff0000"/><rect x="1139" y="481" width="3" height="6" fill="#ff0000"/><rect x="1144" y="477" width="1" height="14" fill="#00ff00"/><rect x="1143" y="481" width="3" height="9" fill="#00ff00"/><rect x="1148" y="482" width="1" height="19" fill="#ff0000"/><rect x="1147" y="484" width="3" height="6" fill="#ff0000"/><rect x="1152" y="478" width="1" height="23" fill="#00ff00"/><rect x="1151" y="484" width="3" height="9" fill="#00ff00"/><rect x="1156" y="478" width="1" height="17" fill="#ff0000"/><rect x="1155" y="479" width="3" height="14" fill="#ff0000"/><rect x="1160" y="475" width="1" height="7" fill="#ff0000"/><rect x="1159" y="477" width="3" height="4" fill="#ff0000"/><rect x="1164" y="439" width="1" height="39" fill="#ff0000"/><rect x="1163" y="458" width="3" height="19" fill="#ff0000"/><rect x="1168" y="444" width="1" height="28" fill="#ff0000"/><rect x="1167" y="445" width="3" height="14" fill="#ff0000"/><rect x="1172" y="444" width="1" height="18" fill="#00ff00"/><rect x="1171" y="445" width="3" height="17" fill="#00ff00"/><rect x="1176" y="461" width="1" height="9" fill="#00ff00"/><rect x="1175" y="461" width="3" height="5" fill="#00ff00"/><rect x="1180" y="464" width="1" height="8" fill="#ff0000"/><rect x="1179" y="464" width="3" height="2" fill="#ff0000"/><rect x="1184" y="458" width="1" height="14" fill="#ff0000"/><rect x="1183" y="460" width="3" height="4" fill="#ff0000"/><rect x="1188" y="458" width="1" height="22" fill="#00ff00"/><rect x="1187" y="459" width="3" height="16" fill="#00ff00"/><rect x="1192" y="468" width="1" height="18" fill="#00ff00"/><rect x="1191" y="474" width="3" height="11" fill="#00ff00"/><rect x="1196" y="481" width="1" height="13" fill="#00ff00"/><rect x="1195" y="484" width="3" height="6" fill="#00ff00"/><rect x="1200" y="481" width="1" height="14" fill="#00ff00"/><rect x="1199" y="489" width="3" height="6" fill="#00ff00"/><rect x="1204" y="487" width="1" height="19" fill="#ff0000"/><rect x="1203" y="489" width="3" height="2" fill="#ff0000"/><rect x="1208" y="475" width="1" height="16" fill="#ff0000"/><rect x="1207" y="489" width="3" height="2" fill="#ff0000"/><rect x="1212" y="487" width="1" height="27" fill="#00ff00"/><rect x="1211" y="488" width="3" height="11" fill="#00ff00"/><rect x="1216" y="490" width="1" height="16" fill="#ff0000"/><rect x="1215" y="493" width="3" height="6" fill="#ff0000"/><rect x="1220" y="490" width="1" height="18" fill="#00ff00"/><rect x="1219" y="492" width="3" height="8" fill="#00ff00"/><rect x="1224" y="487" width="1" height="13" fill="#ff0000"/><rect x="1223" y="494" width="3" height="6" fill="#ff0000"/><rect x="1228" y="466" width="1" height="34" fill="#ff0000"/><rect x="1227" y="474" width="3" height="26" fill="#ff0000"/><rect x="1232" y="474" width="1" height="16" fill="#00ff00"/><rect x="1231" y="474" width="3" height="9" fill="#00ff00"/><rect x="1236" y="482" width="1" height="12" fill="#00ff00"/><rect x="1235" y="482" width="3" height="12" fill="#00ff00"/><rect x="1240" y="492" width="1" height="18" fill="#00ff00"/><rect x="1239" y="493" width="3" height="16" fill="#00ff00"/><rect x="1244" y="483" width="1" height="31" fill="#ff0000"/><rect x="1243" y="484" width="3" height="25" fill="#ff0000"/><rect x="1248" y="483" width="1" height="11" fill="#00ff00"/><rect x="1247" y="484" width="3" height="6" fill="#00ff00"/><rect x="1252" y="475" width="1" height="16" fill="#ff0000"/><rect x="1251" y="483" width="3" height="8" fill="#ff0000"/><rect x="1256" y="483" width="1" height="10" fill="#00ff00"/><rect x="1255" y="483" width="3" height="7" fill="#00ff00"/><rect x="1260" y="487" width="1" height="32" fill="#00ff00"/><rect x="1259" y="489" width="3" height="26" fill="#00ff00"/><rect x="1264" y="508" width="1" height="15" fill="#00ff00"/><rect x="1263" y="514" width="3" height="2" fill="#00ff00"/><rect x="1268" y="506" width="1" height="11" fill="#ff0000"/><rect x="1267" y="506" width="3" height="10" fill="#ff0000"/><polyline points="4.5,411.60 8.5,412.02 12.5,412.87 16.5,414.50 20.5,414.50 24.5,414.50 28.5,414.50 32.5,414.50 36.5,414.50 40.5,414.50 44.5,414.00 48.5,413.10 52.5,412.30 56.5,411.10 60.5,409.43 64.5,407.30 68.5,404.73 72.5,402.19 76.5,399.41 80.5,397.17 84.5,395.08 88.5,392.68 92.5,390.62 96.5,389.10 100.5,388.00 104.5,386.98 108.5,385.96 112.5,384.30 116.5,382.44 120.5,380.58 124.5,379.35 128.5,378.26 132.5,376.68 136.5,374.99 140.5,373.59 144.5,372.02 148.5,369.91 152.5,367.96 156.5,366.36 160.5,365.20 164.5,363.77 168.5,362.44 172.5,360.98 176.5,359.60 180.5,357.62 184.5,353.85 188.5,350.39 192.5,346.03 196.5,340.84 200.5,336.09 204.5,331.11 208.5,324.39 212.5,314.80 216.5,305.60 220.5,297.20 224.5,288.28 228.5,278.46 232.5,269.11 236.5,260.78 240.5,254.61 244.5,248.15 248.5,242.59 252.5,235.73 256.5,229.33 260.5,222.37 264.5,216.58 268.5,211.11 272.5,205.35 276.5,199.73 280.5,194.89 284.5,190.17 288.5,185.72 292.5,181.57 296.5,177.43 300.5,174.13 304.5,173.16 308.5,170.47 312.5,168.44 316.5,168.05 320.5,167.29 324.5,166.60 328.5,166.52 332.5,169.56 336.5,172.87 340.5,174.87 344.5,177.28 348.5,180.99 352.5,184.69 356.5,187.71 360.5,188.75 364.5,188.54 368.5,187.52 372.5,188.15 376.5,188.74 380.5,189.29 384.5,190.37 388.5,192.14 392.5,193.89 396.5,194.70 400.5,194.43 404.5,193.88 408.5,193.09 412.5,192.13 416.5,191.02 420.5,190.95 424.5,191.14 428.5,192.62 432.5,194.05 436.5,194.17 440.5,194.36 444.5,195.09 448.5,197.97 452.5,200.71 456.5,202.75 460.5,204.95 464.5,207.46 468.5,210.83 472.5,214.45 476.5,217.83 480.5,220.84 484.5,225.93 488.5,230.81 492.5,236.17 496.5,240.87 500.5,246.59 504.5,249.77 508.5,252.21 512.5,254.62 516.5,257.68 520.5,261.09 524.5,265.04 528.5,268.70 532.5,272.41 536.5,276.21 540.5,279.43 544.5,282.24 548.5,284.58 552.5,286.79 556.5,289.26 560.5,291.84 564.5,293.98 568.5,295.63 572.5,297.04 576.5,298.34 580.5,300.22 584.5,301.90 588.5,302.36 592.5,301.82 596.5,301.46 600.5,300.95 604.5,299.73 608.5,298.55 612.5,297.11 616.5,295.80 620.5,294.81 624.5,294.93 628.5,295.07 632.5,295.36 636.5,296.03 640.5,296.92 644.5,298.14 648.5,299.94 652.5,301.31 656.5,302.72 660.5,303.93 664.5,305.04 668.5,306.82 672.5,308.50 676.5,310.85 680.5,312.96 684.5,315.08 688.5,316.86 692.5,319.36 696.5,321.69 700.5,322.98 704.5,324.31 708.5,325.76 712.5,327.95 716.5,330.15 720.5,332.91 724.5,335.52 728.5,338.06 732.5,340.87 736.5,344.09 740.5,346.73 744.5,349.48 748.5,352.30 752.5,355.23 756.5,357.60 760.5,359.52 764.5,361.58 768.5,363.51 772.5,365.88 776.5,368.36 780.5,371.01 784.5,373.45 788.5,375.78 792.5,378.09 796.5,380.31 800.5,382.85 804.5,385.31 808.5,386.64 812.5,387.35 816.5,388.28 820.5,389.88 824.5,391.33 828.5,392.62 832.5,393.36 836.5,394.00 840.5,394.06 844.5,394.53 848.5,394.96 852.5,394.22 856.5,393.19 860.5,391.70 864.5,390.25 868.5,388.62 872.5,387.00 876.5,385.82 880.5,384.15 884.5,382.72 888.5,381.40 892.5,379.81 896.5,378.26 900.5,376.47 904.5,374.68 908.5,372.98 912.5,372.31 916.5,372.13 920.5,371.50 924.5,371.29 928.5,371.69 932.5,371.78 936.5,371.14 940.5,371.06 944.5,371.14 948.5,371.32 952.5,371.97 956.5,372.24 960.5,372.81 964.5,373.12 968.5,373.48 972.5,374.12 976.5,375.28 980.5,375.68 984.5,375.71 988.5,376.30 992.5,376.90 996.5,377.64 1000.5,379.96 1004.5,381.41 1008.5,383.37 1012.5,385.55 1016.5,387.60 1020.5,389.93 1024.5,391.94 1028.5,393.59 1032.5,394.37 1036.5,394.09 1040.5,394.01 1044.5,394.35 1048.5,394.69 1052.5,395.33 1056.5,396.55 1060.5,397.50 1064.5,398.18 1068.5,398.64 1072.5,399.24 1076.5,400.12 1080.5,401.00 1084.5,402.28 1088.5,403.53 1092.5,405.45 1096.5,406.95 1100.5,409.80 1104.5,413.56 1108.5,417.61 1112.5,421.71 1116.5,425.27 1120.5,427.63 1124.5,430.17 1128.5,432.54 1132.5,434.45 1136.5,436.41 1140.5,437.90 1144.5,440.00 1148.5,442.33 1152.5,445.34 1156.5,448.21 1160.5,450.89 1164.5,452.39 1168.5,453.66 1172.5,455.22 1176.5,457.06 1180.5,458.77 1184.5,460.51 1188.5,462.74 1192.5,464.86 1196.5,466.98 1200.5,469.28 1204.5,471.12 1208.5,472.99 1212.5,475.00 1216.5,476.87 1220.5,478.80 1224.5,479.99 1228.5,479.99 1232.5,480.11 1236.5,480.81 1240.5,481.88 1244.5,482.21 1248.5,482.08 1252.5,482.23 1256.5,482.48 1260.5,483.56 1264.5,484.42 1268.5,485.19" fill="none" stroke="#0000cd" stroke-width="1"/><polyline points="4.5,421.50 8.5,420.37 12.5,419.23 16.5,417.80 20.5,416.20 24.5,414.09 28.5,412.30 32.5,411.29 36.5,409.60 40.5,407.75 44.5,405.27 48.5,403.05 52.5,400.26 56.5,395.85 60.5,392.58 64.5,389.11 68.5,385.24 72.5,381.42 76.5,378.38 80.5,375.91 84.5,373.02 88.5,370.43 92.5,368.98 96.5,367.86 100.5,367.01 104.5,366.49 108.5,366.25 112.5,365.98 116.5,366.40 120.5,367.20 124.5,368.36 128.5,369.77 132.5,370.40 136.5,370.64 140.5,370.92 144.5,370.11 148.5,367.64 152.5,365.24 156.5,363.09 160.5,361.72 164.5,359.24 168.5,356.83 172.5,353.86 176.5,350.91 180.5,346.01 184.5,336.81 188.5,328.92 192.5,319.35 196.5,308.19 200.5,298.91 204.5,289.87 208.5,277.06 212.5,258.50 216.5,240.14 220.5,224.36 224.5,207.58 228.5,189.43 232.5,172.06 236.5,158.89 240.5,154.53 244.5,149.26 248.5,148.12 252.5,145.16 256.5,141.86 260.5,137.91 264.5,139.09 268.5,145.44 272.5,150.44 276.5,154.24 280.5,161.60 284.5,170.04 288.5,178.13 292.5,184.12 296.5,185.52 300.5,187.41 304.5,188.01 308.5,189.08 312.5,188.89 316.5,191.79 320.5,193.29 324.5,194.48 328.5,193.85 332.5,193.84 336.5,192.95 340.5,191.57 344.5,189.49 348.5,188.19 352.5,187.63 356.5,187.99 360.5,187.94 364.5,187.99 368.5,188.99 372.5,188.22 376.5,187.81 380.5,186.54 384.5,190.20 388.5,193.83 392.5,195.48 396.5,196.75 400.5,198.36 404.5,197.67 408.5,196.13 412.5,193.60 416.5,190.40 420.5,192.57 424.5,195.79 428.5,198.66 432.5,200.26 436.5,202.25 440.5,201.84 444.5,200.81 448.5,202.59 452.5,206.71 456.5,210.77 460.5,215.29 464.5,220.29 468.5,228.26 472.5,237.83 476.5,245.58 480.5,251.56 484.5,259.36 488.5,267.78 492.5,278.22 496.5,287.48 500.5,296.90 504.5,301.21 508.5,304.18 512.5,306.63 516.5,309.75 520.5,313.29 524.5,313.82 528.5,312.38 532.5,310.56 536.5,309.05 540.5,307.21 544.5,305.98 548.5,302.40 552.5,298.65 556.5,293.69 560.5,291.99 564.5,290.33 568.5,290.46 572.5,291.05 576.5,290.59 580.5,290.69 584.5,291.43 588.5,292.43 592.5,292.72 596.5,292.79 600.5,291.66 604.5,291.82 608.5,292.99 612.5,295.04 616.5,295.96 620.5,298.66 624.5,299.71 628.5,299.96 632.5,300.25 636.5,300.76 640.5,302.62 644.5,304.78 648.5,308.35 652.5,310.26 656.5,312.84 660.5,316.21 664.5,319.89 668.5,323.19 672.5,325.86 676.5,328.06 680.5,330.62 684.5,333.21 688.5,336.54 692.5,341.05 696.5,343.67 700.5,343.91 704.5,343.64 708.5,344.81 712.5,346.80 716.5,348.98 720.5,351.38 724.5,353.33 728.5,356.32 732.5,359.39 736.5,362.67 740.5,366.49 744.5,369.61 748.5,370.53 752.5,372.12 756.5,374.94 760.5,378.08 764.5,381.55 768.5,384.54 772.5,386.81 776.5,388.80 780.5,392.26 784.5,395.73 788.5,398.00 792.5,398.73 796.5,400.00 800.5,402.13 804.5,403.96 808.5,403.83 812.5,404.81 816.5,405.30 820.5,404.56 824.5,403.26 828.5,402.11 832.5,400.36 836.5,398.24 840.5,395.55 844.5,393.50 848.5,392.47 852.5,389.19 856.5,384.84 860.5,380.19 864.5,377.35 868.5,373.25 872.5,369.37 876.5,366.24 880.5,362.69 884.5,360.34 888.5,358.91 892.5,356.42 896.5,354.94 900.5,353.57 904.5,352.27 908.5,352.50 912.5,353.99 916.5,358.06 920.5,361.95 924.5,366.81 928.5,371.03 932.5,374.73 936.5,377.43 940.5,379.58 944.5,381.28 948.5,383.91 952.5,386.87 956.5,389.16 960.5,391.54 964.5,393.79 968.5,394.98 972.5,393.46 976.5,392.94 980.5,389.60 984.5,385.96 988.5,382.94 992.5,381.70 996.5,380.32 1000.5,381.60 1004.5,381.96 1008.5,383.35 1012.5,384.94 1016.5,386.64 1020.5,389.59 1024.5,391.81 1028.5,394.21 1032.5,394.89 1036.5,397.51 1040.5,401.17 1044.5,405.49 1048.5,409.16 1052.5,412.64 1056.5,412.98 1060.5,414.06 1064.5,413.01 1068.5,411.97 1072.5,411.81 1076.5,411.01 1080.5,410.96 1084.5,412.41 1088.5,414.61 1092.5,417.80 1096.5,420.66 1100.5,422.71 1104.5,426.39 1108.5,430.67 1112.5,435.61 1116.5,439.82 1120.5,444.71 1124.5,449.51 1128.5,454.69 1132.5,458.49 1136.5,462.53 1140.5,465.92 1144.5,469.95 1148.5,473.24 1152.5,477.16 1156.5,479.81 1160.5,481.16 1164.5,480.02 1168.5,477.63 1172.5,476.82 1176.5,476.04 1180.5,475.34 1184.5,472.96 1188.5,472.60 1192.5,472.78 1196.5,473.32 1200.5,473.70 1204.5,474.10 1208.5,473.86 1212.5,475.21 1216.5,476.34 1220.5,479.30 1224.5,482.80 1228.5,483.76 1232.5,485.00 1236.5,487.06 1240.5,490.49 1244.5,491.23 1248.5,491.59 1252.5,491.17 1256.5,490.81 1260.5,492.59 1264.5,494.44 1268.5,495.07" fill="none" stroke="#ff0000" stroke-width="1"/><polyline points="4.5,416.90 8.5,416.79 12.5,416.67 16.5,415.54 20.5,412.52 24.5,408.66 28.5,405.25 32.5,401.26 36.5,395.96 40.5,392.87 44.5,390.22 48.5,386.56 52.5,382.81 56.5,380.38 60.5,376.85 64.5,373.42 68.5,370.11 72.5,366.91 76.5,363.60 80.5,361.97 84.5,360.20 88.5,359.78 92.5,361.13 96.5,363.42 100.5,365.30 104.5,368.26 108.5,371.11 112.5,371.98 116.5,372.76 120.5,373.96 124.5,375.36 128.5,376.76 132.5,375.98 136.5,373.84 140.5,370.62 144.5,364.68 148.5,355.16 152.5,348.98 156.5,344.16 160.5,342.50 164.5,340.68 168.5,341.72 172.5,340.88 176.5,339.84 180.5,331.38 184.5,313.94 188.5,297.84 192.5,277.22 196.5,251.00 200.5,232.78 204.5,223.74 208.5,203.78 212.5,173.78 216.5,151.98 220.5,131.94 224.5,111.30 228.5,95.50 232.5,97.82 236.5,103.86 240.5,118.42 244.5,134.54 248.5,161.56 252.5,175.68 256.5,185.12 260.5,177.22 264.5,175.30 268.5,166.28 272.5,166.74 276.5,166.60 280.5,177.62 284.5,182.18 288.5,189.34 292.5,198.18 296.5,206.00 300.5,206.80 304.5,211.88 308.5,206.34 312.5,198.46 316.5,194.76 320.5,191.76 324.5,184.38 328.5,180.10 332.5,180.46 336.5,180.88 340.5,177.38 344.5,175.38 348.5,182.32 352.5,188.62 356.5,192.90 360.5,201.70 364.5,202.14 368.5,200.72 372.5,196.42 376.5,191.28 380.5,180.48 384.5,186.28 388.5,194.00 392.5,201.20 396.5,202.40 400.5,208.48 404.5,203.24 408.5,195.06 412.5,187.64 416.5,183.92 420.5,185.92 424.5,195.44 428.5,203.52 432.5,209.94 436.5,213.66 440.5,212.22 444.5,208.08 448.5,212.18 452.5,220.46 456.5,232.34 460.5,240.90 464.5,249.58 468.5,259.52 472.5,271.04 476.5,283.38 480.5,297.02 484.5,312.94 488.5,320.60 492.5,326.76 496.5,329.54 500.5,335.02 504.5,329.36 508.5,322.38 512.5,311.88 516.5,303.26 520.5,295.46 524.5,294.82 528.5,294.00 532.5,294.40 536.5,295.06 540.5,295.94 544.5,298.64 548.5,298.82 552.5,296.18 556.5,292.00 560.5,286.72 564.5,278.56 568.5,278.46 572.5,281.98 576.5,286.80 580.5,291.18 584.5,297.08 588.5,299.90 592.5,299.74 596.5,302.08 600.5,301.36 604.5,299.92 608.5,297.76 612.5,298.50 616.5,295.62 620.5,298.18 624.5,300.56 628.5,301.48 632.5,301.38 636.5,304.62 640.5,308.16 644.5,314.08 648.5,323.24 652.5,330.10 656.5,335.18 660.5,337.98 664.5,340.06 668.5,340.06 672.5,339.32 676.5,340.78 680.5,340.90 684.5,338.78 688.5,338.74 692.5,347.14 696.5,351.88 700.5,351.30 704.5,352.44 708.5,353.26 712.5,351.28 716.5,352.84 720.5,360.96 724.5,367.20 728.5,371.56 732.5,376.02 736.5,379.24 740.5,381.10 744.5,384.32 748.5,386.92 752.5,387.54 756.5,385.66 760.5,384.88 764.5,386.70 768.5,390.50 772.5,393.98 776.5,399.76 780.5,406.92 784.5,411.26 788.5,413.72 792.5,412.60 796.5,412.46 800.5,411.94 804.5,409.96 808.5,403.86 812.5,402.70 816.5,399.72 820.5,393.50 824.5,388.54 828.5,389.16 832.5,387.30 836.5,387.14 840.5,386.04 844.5,386.40 848.5,385.62 852.5,381.18 856.5,374.42 860.5,366.94 864.5,358.64 868.5,348.88 872.5,344.22 876.5,341.42 880.5,339.56 884.5,341.52 888.5,347.14 892.5,350.88 896.5,354.42 900.5,360.86 904.5,363.04 908.5,363.24 912.5,367.60 916.5,375.68 920.5,382.10 924.5,389.58 928.5,396.10 932.5,399.50 936.5,393.78 940.5,390.88 944.5,387.66 948.5,386.94 952.5,388.42 956.5,393.72 960.5,396.52 964.5,398.28 968.5,398.60 972.5,394.12 976.5,392.68 980.5,384.16 984.5,374.18 988.5,365.78 992.5,360.86 996.5,355.54 1000.5,365.26 1004.5,375.72 1008.5,389.58 1012.5,402.78 1016.5,414.22 1020.5,420.66 1024.5,426.20 1028.5,424.54 1032.5,420.54 1036.5,414.60 1040.5,406.60 1044.5,404.08 1048.5,402.72 1052.5,405.26 1056.5,408.56 1060.5,411.80 1064.5,410.64 1068.5,410.64 1072.5,411.90 1076.5,415.14 1080.5,417.52 1084.5,422.84 1088.5,427.94 1092.5,431.36 1096.5,433.64 1100.5,436.98 1104.5,441.86 1108.5,450.22 1112.5,458.44 1116.5,465.44 1120.5,472.24 1124.5,475.40 1128.5,479.16 1132.5,479.20 1136.5,481.10 1140.5,482.24 1144.5,485.16 1148.5,483.28 1152.5,485.90 1156.5,485.36 1160.5,484.54 1164.5,478.42 1168.5,470.74 1172.5,464.50 1176.5,461.70 1180.5,459.10 1184.5,459.40 1188.5,465.12 1192.5,469.78 1196.5,474.62 1200.5,480.56 1204.5,486.46 1208.5,489.44 1212.5,492.16 1216.5,493.00 1220.5,494.10 1224.5,495.10 1228.5,492.20 1232.5,489.12 1236.5,489.10 1240.5,490.72 1244.5,488.72 1248.5,491.70 1252.5,491.90 1256.5,491.08 1260.5,492.36 1264.5,498.44 1268.5,501.92" fill="none" stroke="#ffa500" stroke-width="1"/><rect x="4" y="332" width="1593" height="2" fill="#ff0000"/><rect x="4" y="396" width="1593" height="2" fill="#ff0000"/><rect x="4" y="446" width="1593" height="2" fill="#00ff00"/><rect x="4" y="495" width="1593" height="2" fill="#0000ff"/><rect x="4" y="394" width="6" height="6" fill="#ff0000"/><rect x="6" y="396" width="2" height="2" fill="#ffffff"/><rect x="4" y="444" width="6" height="6" fill="#00ff00"/><rect x="6" y="446" width="2" height="2" fill="#ffffff"/><rect x="4" y="493" width="6" height="6" fill="#0000ff"/><rect x="6" y="495" width="2" height="2" fill="#ffffff"/><rect x="1590" y="394" width="6" height="6" fill="#ff0000"/><rect x="1592" y="396" width="2" height="2" fill="#ffffff"/><rect x="1590" y="444" width="6" height="6" fill="#00ff00"/><rect x="1592" y="446" width="2" height="2" fill="#ffffff"/><rect x="1590" y="493" width="6" height="6" fill="#0000ff"/><rect x="1592" y="495" width="2" height="2" fill="#ffffff"/><path d="M1272 25 L1282 25 L1277 30 Z" fill="#c0c0c0"/></g><path d="M7 31 L14 31 L10.5 35 Z" fill="#000"/><text x="19" y="36" font-size="10" fill="#000" stroke="#000" stroke-width="0.12" textLength="66" lengthAdjust="spacingAndGlyphs" >USDCAD,Daily</text><text x="91.5" y="36" font-size="10" fill="#000" stroke="#000" stroke-width="0.12" textLength="140.5" lengthAdjust="spacingAndGlyphs" >1.26190 1.26603 1.26181 1.26589</text><rect x="1597" y="37" width="2" height="1" fill="#000"/><text x="1602.5" y="41" font-size="10" fill="#000" stroke="#000" stroke-width="0.12" textLength="32" lengthAdjust="spacingAndGlyphs" >1.47190</text><rect x="1597" y="70" width="2" height="1" fill="#000"/><text x="1602.5" y="74" font-size="10" fill="#000" stroke="#000" stroke-width="0.12" textLength="32" lengthAdjust="spacingAndGlyphs" >1.45750</text><rect x="1597" y="103" width="2" height="1" fill="#000"/><text x="1602.5" y="107" font-size="10" fill="#000" stroke="#000" stroke-width="0.12" textLength="32" lengthAdjust="spacingAndGlyphs" >1.44310</text><rect x="1597" y="136" width="2" height="1" fill="#000"/><text x="1602.5" y="140" font-size="10" fill="#000" stroke="#000" stroke-width="0.12" textLength="32" lengthAdjust="spacingAndGlyphs" >1.42870</text><rect x="1597" y="169" width="2" height="1" fill="#000"/><text x="1602.5" y="173" font-size="10" fill="#000" stroke="#000" stroke-width="0.12" textLength="32" lengthAdjust="spacingAndGlyphs" >1.41390</text><rect x="1597" y="202" width="2" height="1" fill="#000"/><text x="1602.5" y="206" font-size="10" fill="#000" stroke="#000" stroke-width="0.12" textLength="32" lengthAdjust="spacingAndGlyphs" >1.39950</text><rect x="1597" y="235" width="2" height="1" fill="#000"/><text x="1602.5" y="239" font-size="10" fill="#000" stroke="#000" stroke-width="0.12" textLength="32" lengthAdjust="spacingAndGlyphs" >1.38510</text><rect x="1597" y="268" width="2" height="1" fill="#000"/><text x="1602.5" y="272" font-size="10" fill="#000" stroke="#000" stroke-width="0.12" textLength="32" lengthAdjust="spacingAndGlyphs" >1.37070</text><rect x="1597" y="301" width="2" height="1" fill="#000"/><text x="1602.5" y="305" font-size="10" fill="#000" stroke="#000" stroke-width="0.12" textLength="32" lengthAdjust="spacingAndGlyphs" >1.35590</text><rect x="1597" y="334" width="2" height="1" fill="#000"/><rect x="1597" y="367" width="2" height="1" fill="#000"/><text x="1602.5" y="371" font-size="10" fill="#000" stroke="#000" stroke-width="0.12" textLength="32" lengthAdjust="spacingAndGlyphs" >1.32710</text><rect x="1597" y="400" width="2" height="1" fill="#000"/><text x="1602.5" y="404" font-size="10" fill="#000" stroke="#000" stroke-width="0.12" textLength="32" lengthAdjust="spacingAndGlyphs" >1.31270</text><rect x="1597" y="433" width="2" height="1" fill="#000"/><text x="1602.5" y="437" font-size="10" fill="#000" stroke="#000" stroke-width="0.12" textLength="32" lengthAdjust="spacingAndGlyphs" >1.29790</text><rect x="1597" y="466" width="2" height="1" fill="#000"/><text x="1602.5" y="470" font-size="10" fill="#000" stroke="#000" stroke-width="0.12" textLength="32" lengthAdjust="spacingAndGlyphs" >1.28350</text><rect x="1597" y="499" width="2" height="1" fill="#000"/><rect x="1597" y="532" width="2" height="1" fill="#000"/><text x="1602.5" y="536" font-size="10" fill="#000" stroke="#000" stroke-width="0.12" textLength="32" lengthAdjust="spacingAndGlyphs" >1.25470</text><rect x="1598" y="327" width="41" height="11" fill="#ff0000"/><text x="1602.5" y="336" font-size="10" fill="#ffffff" stroke="#ffffff" stroke-width="0.12" textLength="32" lengthAdjust="spacingAndGlyphs" >1.34206</text><rect x="1598" y="391" width="41" height="11" fill="#ff0000"/><text x="1602.5" y="400" font-size="10" fill="#ffffff" stroke="#ffffff" stroke-width="0.12" textLength="32" lengthAdjust="spacingAndGlyphs" >1.31405</text><rect x="1598" y="441" width="41" height="11" fill="#00ff00"/><text x="1602.5" y="450" font-size="10" fill="#ffffff" stroke="#ffffff" stroke-width="0.12" textLength="32" lengthAdjust="spacingAndGlyphs" >1.29208</text><rect x="1598" y="490" width="41" height="11" fill="#0000ff"/><text x="1602.5" y="499" font-size="10" fill="#ffffff" stroke="#ffffff" stroke-width="0.12" textLength="32" lengthAdjust="spacingAndGlyphs" >1.27027</text><rect x="1598" y="501" width="41" height="11" fill="#000000"/><text x="1602.5" y="510" font-size="10" fill="#ffffff" stroke="#ffffff" stroke-width="0.12" textLength="32" lengthAdjust="spacingAndGlyphs" >1.26589</text><g clip-path="url(#cr)"><line x1="5" y1="566.5" x2="1596" y2="566.5" stroke="#c0c0c0" stroke-dasharray="3,3" shape-rendering="crispEdges"/><line x1="5" y1="602.5" x2="1596" y2="602.5" stroke="#c0c0c0" stroke-dasharray="3,3" shape-rendering="crispEdges"/><polyline points="4.5,585.96 8.5,585.96 12.5,587.77 16.5,586.66 20.5,576.99 24.5,573.12 28.5,574.24 32.5,573.84 36.5,569.47 40.5,568.61 44.5,566.41 48.5,564.61 52.5,564.11 56.5,563.59 60.5,560.48 64.5,559.02 68.5,557.84 72.5,557.64 76.5,557.03 80.5,558.89 84.5,557.07 88.5,562.20 92.5,572.70 96.5,576.03 100.5,575.44 104.5,576.37 108.5,579.70 112.5,578.26 116.5,581.29 120.5,582.77 124.5,584.83 128.5,588.00 132.5,575.99 136.5,572.99 140.5,570.32 144.5,564.22 148.5,558.95 152.5,563.21 156.5,565.78 160.5,575.84 164.5,570.22 168.5,569.93 172.5,567.85 176.5,569.22 180.5,561.05 184.5,552.41 188.5,555.73 192.5,552.86 196.5,550.81 200.5,557.39 204.5,556.20 208.5,552.33 212.5,548.66 216.5,553.07 220.5,559.64 224.5,558.54 228.5,556.83 232.5,560.28 236.5,568.49 240.5,580.84 244.5,579.93 248.5,584.63 252.5,577.88 256.5,579.40 260.5,576.89 264.5,580.59 268.5,579.87 272.5,579.25 276.5,580.48 280.5,586.34 284.5,584.81 288.5,586.07 292.5,586.74 296.5,587.04 300.5,587.04 304.5,589.43 308.5,580.23 312.5,578.90 316.5,583.60 320.5,584.30 324.5,582.35 328.5,576.92 332.5,580.36 336.5,585.03 340.5,581.97 344.5,581.56 348.5,584.71 352.5,587.19 356.5,589.69 360.5,590.93 364.5,581.39 368.5,582.54 372.5,582.09 376.5,584.08 380.5,579.50 384.5,587.76 388.5,590.43 392.5,589.33 396.5,584.65 400.5,585.20 404.5,581.48 408.5,581.55 412.5,581.33 416.5,580.65 420.5,588.43 424.5,592.49 428.5,590.61 432.5,588.11 436.5,583.97 440.5,585.31 444.5,586.92 448.5,594.25 452.5,596.33 456.5,596.62 460.5,593.11 464.5,594.57 468.5,601.51 472.5,604.12 476.5,604.85 480.5,603.23 484.5,605.72 488.5,605.47 492.5,607.06 496.5,602.84 500.5,604.18 504.5,592.15 508.5,590.16 512.5,588.62 516.5,588.11 520.5,591.18 524.5,590.74 528.5,588.10 532.5,588.24 536.5,588.06 540.5,592.13 544.5,594.19 548.5,586.65 552.5,582.48 556.5,580.14 560.5,582.96 564.5,580.95 568.5,587.10 572.5,588.40 576.5,587.80 580.5,589.74 584.5,590.03 588.5,591.36 592.5,586.98 596.5,590.65 600.5,586.97 604.5,585.89 608.5,586.09 612.5,587.75 616.5,584.45 620.5,591.44 624.5,589.78 628.5,586.71 632.5,586.25 636.5,590.08 640.5,596.64 644.5,598.95 648.5,601.36 652.5,595.08 656.5,595.23 660.5,597.70 664.5,599.04 668.5,598.47 672.5,590.04 676.5,593.93 680.5,594.44 684.5,591.16 688.5,594.43 692.5,601.53 696.5,598.18 700.5,587.85 704.5,588.50 708.5,590.92 712.5,594.36 716.5,597.17 720.5,599.06 724.5,595.76 728.5,595.03 732.5,598.41 736.5,599.59 740.5,599.85 744.5,599.57 748.5,596.87 752.5,597.72 756.5,593.20 760.5,595.57 764.5,599.60 768.5,601.11 772.5,601.41 776.5,602.52 780.5,606.13 784.5,605.01 788.5,602.01 792.5,591.69 796.5,594.82 800.5,598.53 804.5,593.70 808.5,583.03 812.5,585.93 816.5,585.73 820.5,583.81 824.5,582.73 828.5,584.14 832.5,582.09 836.5,585.85 840.5,581.62 844.5,583.86 848.5,582.66 852.5,573.82 856.5,572.67 860.5,568.85 864.5,569.20 868.5,566.47 872.5,568.06 876.5,571.53 880.5,568.93 884.5,579.35 888.5,583.02 892.5,580.41 896.5,582.51 900.5,585.20 904.5,584.48 908.5,583.78 912.5,589.97 916.5,597.69 920.5,596.61 924.5,597.73 928.5,594.30 932.5,593.43 936.5,583.08 940.5,587.73 944.5,588.50 948.5,590.78 952.5,594.00 956.5,592.39 960.5,592.13 964.5,590.44 968.5,589.88 972.5,582.45 976.5,587.88 980.5,574.76 984.5,572.01 988.5,575.04 992.5,576.27 996.5,580.52 1000.5,592.89 1004.5,590.52 1008.5,596.19 1012.5,596.01 1016.5,596.29 1020.5,599.51 1024.5,594.97 1028.5,590.48 1032.5,586.37 1036.5,583.69 1040.5,584.98 1044.5,589.85 1048.5,587.64 1052.5,589.81 1056.5,588.07 1060.5,589.25 1064.5,586.96 1068.5,586.76 1072.5,591.49 1076.5,593.15 1080.5,592.86 1084.5,595.76 1088.5,594.91 1092.5,596.65 1096.5,596.36 1100.5,598.01 1104.5,603.02 1108.5,606.73 1112.5,607.67 1116.5,603.50 1120.5,604.43 1124.5,603.37 1128.5,607.84 1132.5,599.54 1136.5,600.27 1140.5,600.21 1144.5,602.30 1148.5,599.05 1152.5,601.56 1156.5,594.01 1160.5,593.20 1164.5,584.11 1168.5,579.20 1172.5,585.46 1176.5,586.96 1180.5,586.75 1184.5,584.71 1188.5,590.18 1192.5,593.63 1196.5,595.20 1200.5,596.75 1204.5,594.15 1208.5,593.88 1212.5,597.00 1216.5,594.46 1220.5,596.70 1224.5,593.52 1228.5,583.71 1232.5,587.07 1236.5,591.15 1240.5,595.79 1244.5,585.97 1248.5,587.61 1252.5,585.41 1256.5,587.48 1260.5,595.01 1264.5,595.15 1268.5,591.65" fill="none" stroke="#1e90ff" stroke-width="1" shape-rendering="crispEdges"/></g><text x="8" y="550" font-size="10" fill="#000" stroke="#000" stroke-width="0.12" textLength="68" lengthAdjust="spacingAndGlyphs" >RSI(14) 42.5623</text><rect x="1597" y="539" width="1" height="1" fill="#000"/><rect x="1596" y="566" width="1" height="1" fill="#c0c0c0"/><rect x="1596" y="602" width="1" height="1" fill="#c0c0c0"/><text x="1600.5" y="548" font-size="10" fill="#000" stroke="#000" stroke-width="0.12" textLength="16" lengthAdjust="spacingAndGlyphs" >100</text><text x="1599" y="570.5" font-size="10" fill="#000" stroke="#000" stroke-width="0.12" textLength="10" lengthAdjust="spacingAndGlyphs" >70</text><text x="1599" y="606.5" font-size="10" fill="#000" stroke="#000" stroke-width="0.12" textLength="10" lengthAdjust="spacingAndGlyphs" >30</text><text x="1600.5" y="627" font-size="10" fill="#000" stroke="#000" stroke-width="0.12" textLength="5.5" lengthAdjust="spacingAndGlyphs" >0</text><g clip-path="url(#cd)" shape-rendering="crispEdges"><rect x="4" y="692" width="1" height="4" fill="#c0c0c0"/><rect x="8" y="692" width="1" height="4" fill="#c0c0c0"/><rect x="12" y="692" width="1" height="4" fill="#c0c0c0"/><rect x="16" y="692" width="1" height="4" fill="#c0c0c0"/><rect x="20" y="692" width="1" height="3" fill="#c0c0c0"/><rect x="24" y="692" width="1" height="2" fill="#c0c0c0"/><rect x="28" y="692" width="1" height="2" fill="#c0c0c0"/><rect x="36" y="691" width="1" height="2" fill="#c0c0c0"/><rect x="40" y="690" width="1" height="3" fill="#c0c0c0"/><rect x="44" y="689" width="1" height="4" fill="#c0c0c0"/><rect x="48" y="688" width="1" height="5" fill="#c0c0c0"/><rect x="52" y="688" width="1" height="5" fill="#c0c0c0"/><rect x="56" y="687" width="1" height="6" fill="#c0c0c0"/><rect x="60" y="686" width="1" height="7" fill="#c0c0c0"/><rect x="64" y="685" width="1" height="8" fill="#c0c0c0"/><rect x="68" y="684" width="1" height="9" fill="#c0c0c0"/><rect x="72" y="684" width="1" height="9" fill="#c0c0c0"/><rect x="76" y="684" width="1" height="9" fill="#c0c0c0"/><rect x="80" y="683" width="1" height="10" fill="#c0c0c0"/><rect x="84" y="683" width="1" height="10" fill="#c0c0c0"/><rect x="88" y="683" width="1" height="10" fill="#c0c0c0"/><rect x="92" y="684" width="1" height="9" fill="#c0c0c0"/><rect x="96" y="685" width="1" height="8" fill="#c0c0c0"/><rect x="100" y="685" width="1" height="8" fill="#c0c0c0"/><rect x="104" y="686" width="1" height="7" fill="#c0c0c0"/><rect x="108" y="687" width="1" height="6" fill="#c0c0c0"/><rect x="112" y="687" width="1" height="6" fill="#c0c0c0"/><rect x="116" y="688" width="1" height="5" fill="#c0c0c0"/><rect x="120" y="689" width="1" height="4" fill="#c0c0c0"/><rect x="124" y="689" width="1" height="4" fill="#c0c0c0"/><rect x="128" y="690" width="1" height="3" fill="#c0c0c0"/><rect x="132" y="690" width="1" height="3" fill="#c0c0c0"/><rect x="136" y="690" width="1" height="3" fill="#c0c0c0"/><rect x="140" y="689" width="1" height="4" fill="#c0c0c0"/><rect x="144" y="688" width="1" height="5" fill="#c0c0c0"/><rect x="148" y="686" width="1" height="7" fill="#c0c0c0"/><rect x="152" y="685" width="1" height="8" fill="#c0c0c0"/><rect x="156" y="685" width="1" height="8" fill="#c0c0c0"/><rect x="160" y="685" width="1" height="8" fill="#c0c0c0"/><rect x="164" y="685" width="1" height="8" fill="#c0c0c0"/><rect x="168" y="684" width="1" height="9" fill="#c0c0c0"/><rect x="172" y="684" width="1" height="9" fill="#c0c0c0"/><rect x="176" y="684" width="1" height="9" fill="#c0c0c0"/><rect x="180" y="682" width="1" height="11" fill="#c0c0c0"/><rect x="184" y="678" width="1" height="15" fill="#c0c0c0"/><rect x="188" y="674" width="1" height="19" fill="#c0c0c0"/><rect x="192" y="670" width="1" height="23" fill="#c0c0c0"/><rect x="196" y="666" width="1" height="27" fill="#c0c0c0"/><rect x="200" y="664" width="1" height="29" fill="#c0c0c0"/><rect x="204" y="661" width="1" height="32" fill="#c0c0c0"/><rect x="208" y="657" width="1" height="36" fill="#c0c0c0"/><rect x="212" y="649" width="1" height="44" fill="#c0c0c0"/><rect x="216" y="645" width="1" height="48" fill="#c0c0c0"/><rect x="220" y="643" width="1" height="50" fill="#c0c0c0"/><rect x="224" y="641" width="1" height="52" fill="#c0c0c0"/><rect x="228" y="639" width="1" height="54" fill="#c0c0c0"/><rect x="232" y="638" width="1" height="55" fill="#c0c0c0"/><rect x="236" y="641" width="1" height="52" fill="#c0c0c0"/><rect x="240" y="647" width="1" height="46" fill="#c0c0c0"/><rect x="244" y="653" width="1" height="40" fill="#c0c0c0"/><rect x="248" y="659" width="1" height="34" fill="#c0c0c0"/><rect x="252" y="661" width="1" height="32" fill="#c0c0c0"/><rect x="256" y="664" width="1" height="29" fill="#c0c0c0"/><rect x="260" y="665" width="1" height="28" fill="#c0c0c0"/><rect x="264" y="668" width="1" height="25" fill="#c0c0c0"/><rect x="268" y="670" width="1" height="23" fill="#c0c0c0"/><rect x="272" y="671" width="1" height="22" fill="#c0c0c0"/><rect x="276" y="673" width="1" height="20" fill="#c0c0c0"/><rect x="280" y="677" width="1" height="16" fill="#c0c0c0"/><rect x="284" y="680" width="1" height="13" fill="#c0c0c0"/><rect x="288" y="682" width="1" height="11" fill="#c0c0c0"/><rect x="292" y="685" width="1" height="8" fill="#c0c0c0"/><rect x="296" y="687" width="1" height="6" fill="#c0c0c0"/><rect x="300" y="689" width="1" height="4" fill="#c0c0c0"/><rect x="304" y="691" width="1" height="2" fill="#c0c0c0"/><rect x="308" y="690" width="1" height="3" fill="#c0c0c0"/><rect x="312" y="688" width="1" height="5" fill="#c0c0c0"/><rect x="316" y="689" width="1" height="4" fill="#c0c0c0"/><rect x="320" y="689" width="1" height="4" fill="#c0c0c0"/><rect x="324" y="689" width="1" height="4" fill="#c0c0c0"/><rect x="328" y="687" width="1" height="6" fill="#c0c0c0"/><rect x="332" y="687" width="1" height="6" fill="#c0c0c0"/><rect x="336" y="688" width="1" height="5" fill="#c0c0c0"/><rect x="340" y="688" width="1" height="5" fill="#c0c0c0"/><rect x="344" y="688" width="1" height="5" fill="#c0c0c0"/><rect x="348" y="689" width="1" height="4" fill="#c0c0c0"/><rect x="352" y="690" width="1" height="3" fill="#c0c0c0"/><rect x="360" y="692" width="1" height="3" fill="#c0c0c0"/><rect x="364" y="692" width="1" height="2" fill="#c0c0c0"/><rect x="372" y="691" width="1" height="2" fill="#c0c0c0"/><rect x="380" y="690" width="1" height="3" fill="#c0c0c0"/><rect x="388" y="692" width="1" height="3" fill="#c0c0c0"/><rect x="392" y="692" width="1" height="4" fill="#c0c0c0"/><rect x="396" y="692" width="1" height="4" fill="#c0c0c0"/><rect x="400" y="692" width="1" height="4" fill="#c0c0c0"/><rect x="404" y="692" width="1" height="2" fill="#c0c0c0"/><rect x="416" y="691" width="1" height="2" fill="#c0c0c0"/><rect x="424" y="692" width="1" height="3" fill="#c0c0c0"/><rect x="428" y="692" width="1" height="5" fill="#c0c0c0"/><rect x="432" y="692" width="1" height="5" fill="#c0c0c0"/><rect x="436" y="692" width="1" height="4" fill="#c0c0c0"/><rect x="440" y="692" width="1" height="4" fill="#c0c0c0"/><rect x="444" y="692" width="1" height="4" fill="#c0c0c0"/><rect x="448" y="692" width="1" height="7" fill="#c0c0c0"/><rect x="452" y="692" width="1" height="9" fill="#c0c0c0"/><rect x="456" y="692" width="1" height="11" fill="#c0c0c0"/><rect x="460" y="692" width="1" height="12" fill="#c0c0c0"/><rect x="464" y="692" width="1" height="12" fill="#c0c0c0"/><rect x="468" y="692" width="1" height="15" fill="#c0c0c0"/><rect x="472" y="692" width="1" height="19" fill="#c0c0c0"/><rect x="476" y="692" width="1" height="22" fill="#c0c0c0"/><rect x="480" y="692" width="1" height="23" fill="#c0c0c0"/><rect x="484" y="692" width="1" height="26" fill="#c0c0c0"/><rect x="488" y="692" width="1" height="27" fill="#c0c0c0"/><rect x="492" y="692" width="1" height="29" fill="#c0c0c0"/><rect x="496" y="692" width="1" height="29" fill="#c0c0c0"/><rect x="500" y="692" width="1" height="29" fill="#c0c0c0"/><rect x="504" y="692" width="1" height="27" fill="#c0c0c0"/><rect x="508" y="692" width="1" height="24" fill="#c0c0c0"/><rect x="512" y="692" width="1" height="22" fill="#c0c0c0"/><rect x="516" y="692" width="1" height="19" fill="#c0c0c0"/><rect x="520" y="692" width="1" height="18" fill="#c0c0c0"/><rect x="524" y="692" width="1" height="17" fill="#c0c0c0"/><rect x="528" y="692" width="1" height="15" fill="#c0c0c0"/><rect x="532" y="692" width="1" height="14" fill="#c0c0c0"/><rect x="536" y="692" width="1" height="13" fill="#c0c0c0"/><rect x="540" y="692" width="1" height="12" fill="#c0c0c0"/><rect x="544" y="692" width="1" height="12" fill="#c0c0c0"/><rect x="548" y="692" width="1" height="11" fill="#c0c0c0"/><rect x="552" y="692" width="1" height="9" fill="#c0c0c0"/><rect x="556" y="692" width="1" height="7" fill="#c0c0c0"/><rect x="560" y="692" width="1" height="6" fill="#c0c0c0"/><rect x="564" y="692" width="1" height="4" fill="#c0c0c0"/><rect x="568" y="692" width="1" height="4" fill="#c0c0c0"/><rect x="572" y="692" width="1" height="5" fill="#c0c0c0"/><rect x="576" y="692" width="1" height="5" fill="#c0c0c0"/><rect x="580" y="692" width="1" height="5" fill="#c0c0c0"/><rect x="584" y="692" width="1" height="6" fill="#c0c0c0"/><rect x="588" y="692" width="1" height="6" fill="#c0c0c0"/><rect x="592" y="692" width="1" height="6" fill="#c0c0c0"/><rect x="596" y="692" width="1" height="6" fill="#c0c0c0"/><rect x="600" y="692" width="1" height="6" fill="#c0c0c0"/><rect x="604" y="692" width="1" height="5" fill="#c0c0c0"/><rect x="608" y="692" width="1" height="5" fill="#c0c0c0"/><rect x="612" y="692" width="1" height="5" fill="#c0c0c0"/><rect x="616" y="692" width="1" height="4" fill="#c0c0c0"/><rect x="620" y="692" width="1" height="5" fill="#c0c0c0"/><rect x="624" y="692" width="1" height="5" fill="#c0c0c0"/><rect x="628" y="692" width="1" height="5" fill="#c0c0c0"/><rect x="632" y="692" width="1" height="5" fill="#c0c0c0"/><rect x="636" y="692" width="1" height="5" fill="#c0c0c0"/><rect x="640" y="692" width="1" height="6" fill="#c0c0c0"/><rect x="644" y="692" width="1" height="8" fill="#c0c0c0"/><rect x="648" y="692" width="1" height="10" fill="#c0c0c0"/><rect x="652" y="692" width="1" height="10" fill="#c0c0c0"/><rect x="656" y="692" width="1" height="10" fill="#c0c0c0"/><rect x="660" y="692" width="1" height="11" fill="#c0c0c0"/><rect x="664" y="692" width="1" height="12" fill="#c0c0c0"/><rect x="668" y="692" width="1" height="12" fill="#c0c0c0"/><rect x="672" y="692" width="1" height="11" fill="#c0c0c0"/><rect x="676" y="692" width="1" height="11" fill="#c0c0c0"/><rect x="680" y="692" width="1" height="11" fill="#c0c0c0"/><rect x="684" y="692" width="1" height="11" fill="#c0c0c0"/><rect x="688" y="692" width="1" height="11" fill="#c0c0c0"/><rect x="692" y="692" width="1" height="12" fill="#c0c0c0"/><rect x="696" y="692" width="1" height="13" fill="#c0c0c0"/><rect x="700" y="692" width="1" height="12" fill="#c0c0c0"/><rect x="704" y="692" width="1" height="11" fill="#c0c0c0"/><rect x="708" y="692" width="1" height="10" fill="#c0c0c0"/><rect x="712" y="692" width="1" height="11" fill="#c0c0c0"/><rect x="716" y="692" width="1" height="12" fill="#c0c0c0"/><rect x="720" y="692" width="1" height="13" fill="#c0c0c0"/><rect x="724" y="692" width="1" height="13" fill="#c0c0c0"/><rect x="728" y="692" width="1" height="13" fill="#c0c0c0"/><rect x="732" y="692" width="1" height="14" fill="#c0c0c0"/><rect x="736" y="692" width="1" height="14" fill="#c0c0c0"/><rect x="740" y="692" width="1" height="15" fill="#c0c0c0"/><rect x="744" y="692" width="1" height="15" fill="#c0c0c0"/><rect x="748" y="692" width="1" height="14" fill="#c0c0c0"/><rect x="752" y="692" width="1" height="14" fill="#c0c0c0"/><rect x="756" y="692" width="1" height="13" fill="#c0c0c0"/><rect x="760" y="692" width="1" height="13" fill="#c0c0c0"/><rect x="764" y="692" width="1" height="13" fill="#c0c0c0"/><rect x="768" y="692" width="1" height="14" fill="#c0c0c0"/><rect x="772" y="692" width="1" height="14" fill="#c0c0c0"/><rect x="776" y="692" width="1" height="14" fill="#c0c0c0"/><rect x="780" y="692" width="1" height="15" fill="#c0c0c0"/><rect x="784" y="692" width="1" height="16" fill="#c0c0c0"/><rect x="788" y="692" width="1" height="16" fill="#c0c0c0"/><rect x="792" y="692" width="1" height="14" fill="#c0c0c0"/><rect x="796" y="692" width="1" height="14" fill="#c0c0c0"/><rect x="800" y="692" width="1" height="14" fill="#c0c0c0"/><rect x="804" y="692" width="1" height="13" fill="#c0c0c0"/><rect x="808" y="692" width="1" height="11" fill="#c0c0c0"/><rect x="812" y="692" width="1" height="10" fill="#c0c0c0"/><rect x="816" y="692" width="1" height="9" fill="#c0c0c0"/><rect x="820" y="692" width="1" height="7" fill="#c0c0c0"/><rect x="824" y="692" width="1" height="6" fill="#c0c0c0"/><rect x="828" y="692" width="1" height="5" fill="#c0c0c0"/><rect x="832" y="692" width="1" height="4" fill="#c0c0c0"/><rect x="836" y="692" width="1" height="4" fill="#c0c0c0"/><rect x="840" y="692" width="1" height="3" fill="#c0c0c0"/><rect x="844" y="692" width="1" height="3" fill="#c0c0c0"/><rect x="848" y="692" width="1" height="2" fill="#c0c0c0"/><rect x="856" y="690" width="1" height="3" fill="#c0c0c0"/><rect x="860" y="688" width="1" height="5" fill="#c0c0c0"/><rect x="864" y="686" width="1" height="7" fill="#c0c0c0"/><rect x="868" y="685" width="1" height="8" fill="#c0c0c0"/><rect x="872" y="684" width="1" height="9" fill="#c0c0c0"/><rect x="876" y="683" width="1" height="10" fill="#c0c0c0"/><rect x="880" y="682" width="1" height="11" fill="#c0c0c0"/><rect x="884" y="683" width="1" height="10" fill="#c0c0c0"/><rect x="888" y="684" width="1" height="9" fill="#c0c0c0"/><rect x="892" y="685" width="1" height="8" fill="#c0c0c0"/><rect x="896" y="686" width="1" height="7" fill="#c0c0c0"/><rect x="900" y="687" width="1" height="6" fill="#c0c0c0"/><rect x="904" y="688" width="1" height="5" fill="#c0c0c0"/><rect x="908" y="688" width="1" height="5" fill="#c0c0c0"/><rect x="912" y="690" width="1" height="3" fill="#c0c0c0"/><rect x="920" y="692" width="1" height="3" fill="#c0c0c0"/><rect x="924" y="692" width="1" height="5" fill="#c0c0c0"/><rect x="928" y="692" width="1" height="6" fill="#c0c0c0"/><rect x="932" y="692" width="1" height="6" fill="#c0c0c0"/><rect x="936" y="692" width="1" height="5" fill="#c0c0c0"/><rect x="940" y="692" width="1" height="5" fill="#c0c0c0"/><rect x="944" y="692" width="1" height="5" fill="#c0c0c0"/><rect x="948" y="692" width="1" height="6" fill="#c0c0c0"/><rect x="952" y="692" width="1" height="7" fill="#c0c0c0"/><rect x="956" y="692" width="1" height="7" fill="#c0c0c0"/><rect x="960" y="692" width="1" height="7" fill="#c0c0c0"/><rect x="964" y="692" width="1" height="7" fill="#c0c0c0"/><rect x="968" y="692" width="1" height="7" fill="#c0c0c0"/><rect x="972" y="692" width="1" height="6" fill="#c0c0c0"/><rect x="976" y="692" width="1" height="5" fill="#c0c0c0"/><rect x="980" y="692" width="1" height="3" fill="#c0c0c0"/><rect x="988" y="690" width="1" height="3" fill="#c0c0c0"/><rect x="992" y="689" width="1" height="4" fill="#c0c0c0"/><rect x="996" y="689" width="1" height="4" fill="#c0c0c0"/><rect x="1000" y="691" width="1" height="2" fill="#c0c0c0"/><rect x="1004" y="692" width="1" height="2" fill="#c0c0c0"/><rect x="1008" y="692" width="1" height="4" fill="#c0c0c0"/><rect x="1012" y="692" width="1" height="6" fill="#c0c0c0"/><rect x="1016" y="692" width="1" height="8" fill="#c0c0c0"/><rect x="1020" y="692" width="1" height="10" fill="#c0c0c0"/><rect x="1024" y="692" width="1" height="11" fill="#c0c0c0"/><rect x="1028" y="692" width="1" height="10" fill="#c0c0c0"/><rect x="1032" y="692" width="1" height="9" fill="#c0c0c0"/><rect x="1036" y="692" width="1" height="8" fill="#c0c0c0"/><rect x="1040" y="692" width="1" height="7" fill="#c0c0c0"/><rect x="1044" y="692" width="1" height="7" fill="#c0c0c0"/><rect x="1048" y="692" width="1" height="7" fill="#c0c0c0"/><rect x="1052" y="692" width="1" height="7" fill="#c0c0c0"/><rect x="1056" y="692" width="1" height="7" fill="#c0c0c0"/><rect x="1060" y="692" width="1" height="7" fill="#c0c0c0"/><rect x="1064" y="692" width="1" height="6" fill="#c0c0c0"/><rect x="1068" y="692" width="1" height="6" fill="#c0c0c0"/><rect x="1072" y="692" width="1" height="6" fill="#c0c0c0"/><rect x="1076" y="692" width="1" height="7" fill="#c0c0c0"/><rect x="1080" y="692" width="1" height="7" fill="#c0c0c0"/><rect x="1084" y="692" width="1" height="8" fill="#c0c0c0"/><rect x="1088" y="692" width="1" height="9" fill="#c0c0c0"/><rect x="1092" y="692" width="1" height="9" fill="#c0c0c0"/><rect x="1096" y="692" width="1" height="10" fill="#c0c0c0"/><rect x="1100" y="692" width="1" height="10" fill="#c0c0c0"/><rect x="1104" y="692" width="1" height="11" fill="#c0c0c0"/><rect x="1108" y="692" width="1" height="13" fill="#c0c0c0"/><rect x="1112" y="692" width="1" height="15" fill="#c0c0c0"/><rect x="1116" y="692" width="1" height="16" fill="#c0c0c0"/><rect x="1120" y="692" width="1" height="16" fill="#c0c0c0"/><rect x="1124" y="692" width="1" height="16" fill="#c0c0c0"/><rect x="1128" y="692" width="1" height="18" fill="#c0c0c0"/><rect x="1132" y="692" width="1" height="17" fill="#c0c0c0"/><rect x="1136" y="692" width="1" height="17" fill="#c0c0c0"/><rect x="1140" y="692" width="1" height="17" fill="#c0c0c0"/><rect x="1144" y="692" width="1" height="17" fill="#c0c0c0"/><rect x="1148" y="692" width="1" height="17" fill="#c0c0c0"/><rect x="1152" y="692" width="1" height="17" fill="#c0c0c0"/><rect x="1156" y="692" width="1" height="16" fill="#c0c0c0"/><rect x="1160" y="692" width="1" height="15" fill="#c0c0c0"/><rect x="1164" y="692" width="1" height="12" fill="#c0c0c0"/><rect x="1168" y="692" width="1" height="10" fill="#c0c0c0"/><rect x="1172" y="692" width="1" height="9" fill="#c0c0c0"/><rect x="1176" y="692" width="1" height="8" fill="#c0c0c0"/><rect x="1180" y="692" width="1" height="7" fill="#c0c0c0"/><rect x="1184" y="692" width="1" height="6" fill="#c0c0c0"/><rect x="1188" y="692" width="1" height="6" fill="#c0c0c0"/><rect x="1192" y="692" width="1" height="7" fill="#c0c0c0"/><rect x="1196" y="692" width="1" height="8" fill="#c0c0c0"/><rect x="1200" y="692" width="1" height="9" fill="#c0c0c0"/><rect x="1204" y="692" width="1" height="9" fill="#c0c0c0"/><rect x="1208" y="692" width="1" height="9" fill="#c0c0c0"/><rect x="1212" y="692" width="1" height="10" fill="#c0c0c0"/><rect x="1216" y="692" width="1" height="10" fill="#c0c0c0"/><rect x="1220" y="692" width="1" height="10" fill="#c0c0c0"/><rect x="1224" y="692" width="1" height="10" fill="#c0c0c0"/><rect x="1228" y="692" width="1" height="8" fill="#c0c0c0"/><rect x="1232" y="692" width="1" height="8" fill="#c0c0c0"/><rect x="1236" y="692" width="1" height="8" fill="#c0c0c0"/><rect x="1240" y="692" width="1" height="9" fill="#c0c0c0"/><rect x="1244" y="692" width="1" height="8" fill="#c0c0c0"/><rect x="1248" y="692" width="1" height="7" fill="#c0c0c0"/><rect x="1252" y="692" width="1" height="6" fill="#c0c0c0"/><rect x="1256" y="692" width="1" height="6" fill="#c0c0c0"/><rect x="1260" y="692" width="1" height="7" fill="#c0c0c0"/><rect x="1264" y="692" width="1" height="8" fill="#c0c0c0"/><rect x="1268" y="692" width="1" height="9" fill="#c0c0c0"/><polyline points="4.5,698.25 8.5,697.85 12.5,697.48 16.5,697.10 20.5,696.63 24.5,696.04 28.5,695.37 32.5,694.62 36.5,693.76 40.5,693.21 44.5,692.54 48.5,691.77 52.5,690.91 56.5,690.07 60.5,689.27 64.5,688.45 68.5,687.63 72.5,686.85 76.5,686.12 80.5,685.47 84.5,684.89 88.5,684.41 92.5,684.06 96.5,683.90 100.5,683.90 104.5,684.07 108.5,684.38 112.5,684.80 116.5,685.32 120.5,685.94 124.5,686.63 128.5,687.33 132.5,687.91 136.5,688.38 140.5,688.72 144.5,688.85 148.5,688.73 152.5,688.42 156.5,687.97 160.5,687.49 164.5,686.89 168.5,686.28 172.5,685.65 176.5,685.07 180.5,684.43 184.5,683.46 188.5,682.26 192.5,680.69 196.5,678.57 200.5,676.24 204.5,673.70 208.5,670.72 212.5,666.88 216.5,662.70 220.5,658.84 224.5,655.14 228.5,651.64 232.5,648.58 236.5,646.05 240.5,644.49 244.5,643.99 248.5,645.07 252.5,646.92 256.5,649.26 260.5,651.91 264.5,655.11 268.5,658.57 272.5,661.94 276.5,664.79 280.5,667.49 284.5,669.78 288.5,672.12 292.5,674.44 296.5,676.87 300.5,679.20 304.5,681.54 308.5,683.58 312.5,685.27 316.5,686.58 320.5,687.66 324.5,688.42 328.5,688.71 332.5,688.70 336.5,688.63 340.5,688.31 344.5,688.10 348.5,688.12 352.5,688.27 356.5,688.57 360.5,689.09 364.5,689.69 368.5,690.28 372.5,690.68 376.5,691.09 380.5,691.37 384.5,691.72 388.5,692.13 392.5,692.47 396.5,692.56 400.5,692.77 404.5,692.91 408.5,693.01 412.5,693.02 416.5,693.08 420.5,693.13 424.5,693.21 428.5,693.29 432.5,693.46 436.5,693.56 440.5,693.76 444.5,694.09 448.5,694.76 452.5,695.77 456.5,696.86 460.5,697.76 464.5,698.61 468.5,699.75 472.5,701.35 476.5,703.30 480.5,705.42 484.5,707.54 488.5,709.55 492.5,711.53 496.5,713.46 500.5,715.33 504.5,716.62 508.5,717.24 512.5,717.25 516.5,716.82 520.5,715.99 524.5,714.86 528.5,713.37 532.5,711.70 536.5,709.83 540.5,708.19 544.5,706.85 548.5,705.64 552.5,704.49 556.5,703.24 560.5,701.99 564.5,700.78 568.5,699.73 572.5,698.86 576.5,698.03 580.5,697.23 584.5,696.62 588.5,696.28 592.5,696.14 596.5,696.17 600.5,696.33 604.5,696.43 608.5,696.45 612.5,696.46 616.5,696.35 620.5,696.28 624.5,696.19 628.5,696.10 632.5,695.94 636.5,695.85 640.5,695.96 644.5,696.30 648.5,696.83 652.5,697.48 656.5,698.09 660.5,698.75 664.5,699.52 668.5,700.35 672.5,701.07 676.5,701.62 680.5,701.99 684.5,702.10 688.5,702.17 692.5,702.36 696.5,702.56 700.5,702.56 704.5,702.41 708.5,702.32 712.5,702.27 716.5,702.33 720.5,702.57 724.5,702.83 728.5,702.91 732.5,702.99 736.5,703.27 740.5,703.69 744.5,704.16 748.5,704.56 752.5,704.82 756.5,704.89 760.5,704.88 764.5,704.92 768.5,704.94 772.5,704.92 776.5,704.89 780.5,704.95 784.5,705.10 788.5,705.27 792.5,705.39 796.5,705.48 800.5,705.55 804.5,705.50 808.5,705.18 812.5,704.68 816.5,703.95 820.5,703.03 824.5,701.97 828.5,700.97 832.5,699.92 836.5,698.83 840.5,697.71 844.5,696.79 848.5,695.95 852.5,695.05 856.5,694.11 860.5,693.07 864.5,691.96 868.5,690.77 872.5,689.48 876.5,688.25 880.5,686.97 884.5,685.84 888.5,685.04 892.5,684.49 896.5,684.27 900.5,684.34 904.5,684.70 908.5,685.25 912.5,686.00 916.5,687.12 920.5,688.36 924.5,689.66 928.5,690.98 932.5,692.26 936.5,693.31 940.5,694.26 944.5,695.13 948.5,695.89 952.5,696.45 956.5,696.85 960.5,697.08 964.5,697.20 968.5,697.24 972.5,697.26 976.5,697.28 980.5,697.02 984.5,696.45 988.5,695.61 992.5,694.62 996.5,693.58 1000.5,692.83 1004.5,692.25 1008.5,692.09 1012.5,692.17 1016.5,692.69 1020.5,693.72 1024.5,695.02 1028.5,696.40 1032.5,697.69 1036.5,698.56 1040.5,699.16 1044.5,699.49 1048.5,699.58 1052.5,699.50 1056.5,699.17 1060.5,698.75 1064.5,698.31 1068.5,697.93 1072.5,697.76 1076.5,697.77 1080.5,697.79 1084.5,697.93 1088.5,698.11 1092.5,698.37 1096.5,698.68 1100.5,699.08 1104.5,699.67 1108.5,700.42 1112.5,701.29 1116.5,702.18 1120.5,703.06 1124.5,703.91 1128.5,704.83 1132.5,705.70 1136.5,706.50 1140.5,707.12 1144.5,707.54 1148.5,707.74 1152.5,707.85 1156.5,707.78 1160.5,707.58 1164.5,707.01 1168.5,706.16 1172.5,705.20 1176.5,704.19 1180.5,703.10 1184.5,701.96 1188.5,700.83 1192.5,699.88 1196.5,699.14 1200.5,698.73 1204.5,698.63 1208.5,698.68 1212.5,698.87 1216.5,699.15 1220.5,699.56 1224.5,699.94 1228.5,700.09 1232.5,700.07 1236.5,699.96 1240.5,699.92 1244.5,699.77 1248.5,699.51 1252.5,699.16 1256.5,698.73 1260.5,698.46 1264.5,698.46 1268.5,698.56" fill="none" stroke="#ff0000" stroke-width="1" stroke-dasharray="3,3"/></g><text x="8" y="645.5" font-size="10" fill="#000" stroke="#000" stroke-width="0.12" textLength="154" lengthAdjust="spacingAndGlyphs" >MACD(12,26,9) -0.004033 -0.003481</text><rect x="1597" y="634" width="1" height="1" fill="#000"/><rect x="1597" y="692" width="2" height="1" fill="#000"/><text x="1600.2" y="643.3" font-size="10" fill="#000" stroke="#000" stroke-width="0.12" textLength="37" lengthAdjust="spacingAndGlyphs" >0.032972</text><text x="1600.2" y="695.8" font-size="10" fill="#000" stroke="#000" stroke-width="0.12" textLength="17.6" lengthAdjust="spacingAndGlyphs" >0.00</text><text x="1600.2" y="722.3" font-size="10" fill="#000" stroke="#000" stroke-width="0.12" textLength="41" lengthAdjust="spacingAndGlyphs" >-0.018154</text><rect x="4" y="725" width="1" height="4" fill="#000"/><text x="3.0" y="738" font-size="10" fill="#000" stroke="#000" stroke-width="0.12" textLength="49.7" lengthAdjust="spacingAndGlyphs" >17 Jan 2020</text><rect x="68" y="725" width="1" height="4" fill="#000"/><text x="67.4" y="738" font-size="10" fill="#000" stroke="#000" stroke-width="0.12" textLength="46.3" lengthAdjust="spacingAndGlyphs" >5 Feb 2020</text><rect x="132" y="725" width="1" height="4" fill="#000"/><text x="131.8" y="738" font-size="10" fill="#000" stroke="#000" stroke-width="0.12" textLength="50.9" lengthAdjust="spacingAndGlyphs" >24 Feb 2020</text><rect x="196" y="725" width="1" height="4" fill="#000"/><text x="195.6" y="738" font-size="10" fill="#000" stroke="#000" stroke-width="0.12" textLength="50.9" lengthAdjust="spacingAndGlyphs" >13 Mar 2020</text><rect x="260" y="725" width="1" height="4" fill="#000"/><text x="259.6" y="738" font-size="10" fill="#000" stroke="#000" stroke-width="0.12" textLength="45.3" lengthAdjust="spacingAndGlyphs" >1 Apr 2020</text><rect x="324" y="725" width="1" height="4" fill="#000"/><text x="323" y="738" font-size="10" fill="#000" stroke="#000" stroke-width="0.12" textLength="50.9" lengthAdjust="spacingAndGlyphs" >20 Apr 2020</text><rect x="388" y="725" width="1" height="4" fill="#000"/><text x="387" y="738" font-size="10" fill="#000" stroke="#000" stroke-width="0.12" textLength="49.7" lengthAdjust="spacingAndGlyphs" >8 May 2020</text><rect x="452" y="725" width="1" height="4" fill="#000"/><text x="451.2" y="738" font-size="10" fill="#000" stroke="#000" stroke-width="0.12" textLength="54.3" lengthAdjust="spacingAndGlyphs" >27 May 2020</text><rect x="516" y="725" width="1" height="4" fill="#000"/><text x="515.6" y="738" font-size="10" fill="#000" stroke="#000" stroke-width="0.12" textLength="48.9" lengthAdjust="spacingAndGlyphs" >15 Jun 2020</text><rect x="580" y="725" width="1" height="4" fill="#000"/><text x="579.6" y="738" font-size="10" fill="#000" stroke="#000" stroke-width="0.12" textLength="41.2" lengthAdjust="spacingAndGlyphs" >3 Jul 2020</text><rect x="644" y="725" width="1" height="4" fill="#000"/><text x="643.4" y="738" font-size="10" fill="#000" stroke="#000" stroke-width="0.12" textLength="46.3" lengthAdjust="spacingAndGlyphs" >22 Jul 2020</text><rect x="708" y="725" width="1" height="4" fill="#000"/><text x="707.3" y="738" font-size="10" fill="#000" stroke="#000" stroke-width="0.12" textLength="52.4" lengthAdjust="spacingAndGlyphs" >10 Aug 2020</text><rect x="772" y="725" width="1" height="4" fill="#000"/><text x="770.7" y="738" font-size="10" fill="#000" stroke="#000" stroke-width="0.12" textLength="53.2" lengthAdjust="spacingAndGlyphs" >28 Aug 2020</text><rect x="836" y="725" width="1" height="4" fill="#000"/><text x="835.4" y="738" font-size="10" fill="#000" stroke="#000" stroke-width="0.12" textLength="51.2" lengthAdjust="spacingAndGlyphs" >16 Sep 2020</text><rect x="900" y="725" width="1" height="4" fill="#000"/><text x="899.5" y="738" font-size="10" fill="#000" stroke="#000" stroke-width="0.12" textLength="44.9" lengthAdjust="spacingAndGlyphs" >5 Oct 2020</text><rect x="964" y="725" width="1" height="4" fill="#000"/><text x="963" y="738" font-size="10" fill="#000" stroke="#000" stroke-width="0.12" textLength="50.9" lengthAdjust="spacingAndGlyphs" >23 Oct 2020</text><rect x="1028" y="725" width="1" height="4" fill="#000"/><text x="1027" y="738" font-size="10" fill="#000" stroke="#000" stroke-width="0.12" textLength="53.7" lengthAdjust="spacingAndGlyphs" >11 Nov 2020</text><rect x="1092" y="725" width="1" height="4" fill="#000"/><text x="1091.2" y="738" font-size="10" fill="#000" stroke="#000" stroke-width="0.12" textLength="53.5" lengthAdjust="spacingAndGlyphs" >30 Nov 2020</text><rect x="1156" y="725" width="1" height="4" fill="#000"/><text x="1155.2" y="738" font-size="10" fill="#000" stroke="#000" stroke-width="0.12" textLength="51.3" lengthAdjust="spacingAndGlyphs" >18 Dec 2020</text><rect x="1220" y="725" width="1" height="4" fill="#000"/><text x="1218.6" y="738" font-size="10" fill="#000" stroke="#000" stroke-width="0.12" textLength="44.2" lengthAdjust="spacingAndGlyphs" >8 Jan 2021</text><rect x="0" y="746" width="1640" height="1" fill="#e3e3e3"/><rect x="0" y="748" width="1640" height="1" fill="#000"/><rect x="0" y="749" width="1640" height="1" fill="#ffffff"/><rect x="0" y="750" width="1640" height="18" fill="#f0f0f0"/><rect x="0" y="768" width="1640" height="1" fill="#dcdcdc"/><rect x="0" y="769" width="1640" height="1" fill="#ffffff"/><rect x="313" y="748" width="104" height="19" fill="#ffffff"/><rect x="313" y="748" width="1" height="19" fill="#000"/><rect x="416" y="748" width="1" height="19" fill="#000"/><rect x="313" y="766" width="104" height="1" fill="#000"/><text x="17.5" y="763" font-size="13" fill="#6d6d6d" textLength="79.5" lengthAdjust="spacingAndGlyphs" >EURUSD,Daily</text><text x="119" y="763" font-size="13" fill="#6d6d6d" textLength="78.7" lengthAdjust="spacingAndGlyphs" >USDCHF,Daily</text><text x="220" y="763" font-size="13" fill="#6d6d6d" textLength="82" lengthAdjust="spacingAndGlyphs" >AUDUSD,Daily</text><text x="324" y="763" font-size="13" fill="#000000" textLength="80.6" lengthAdjust="spacingAndGlyphs" >USDCAD,Daily</text><text x="427" y="763" font-size="13" fill="#6d6d6d" textLength="83" lengthAdjust="spacingAndGlyphs" >USDCNH,Daily</text><text x="533" y="763" font-size="13" fill="#6d6d6d" textLength="79.5" lengthAdjust="spacingAndGlyphs" >EURUSD,Daily</text><text x="637" y="763" font-size="13" fill="#6d6d6d" textLength="67.7" lengthAdjust="spacingAndGlyphs" >GBPUSD,H4</text><text x="728" y="763" font-size="13" fill="#6d6d6d" textLength="69" lengthAdjust="spacingAndGlyphs" >XAUUSD,H4</text><text x="820" y="763" font-size="13" fill="#6d6d6d" textLength="49.4" lengthAdjust="spacingAndGlyphs" >HK50,H1</text><text x="892" y="763" font-size="13" fill="#6d6d6d" textLength="56" lengthAdjust="spacingAndGlyphs" >UK100,H1</text><text x="972" y="763" font-size="13" fill="#6d6d6d" textLength="56.4" lengthAdjust="spacingAndGlyphs" >UK100,H1</text><text x="1052" y="763" font-size="13" fill="#6d6d6d" textLength="56" lengthAdjust="spacingAndGlyphs" >GER30,H1</text><text x="1131.4" y="763" font-size="13" fill="#6d6d6d" textLength="53.6" lengthAdjust="spacingAndGlyphs" >FRA40,H1</text><text x="1208" y="763" font-size="13" fill="#6d6d6d" textLength="77" lengthAdjust="spacingAndGlyphs" >USOil,Weekly</text><text x="1307" y="763" font-size="13" fill="#6d6d6d" textLength="63" lengthAdjust="spacingAndGlyphs" >USDJPY,H1</text><text x="1391" y="763" font-size="13" fill="#6d6d6d" textLength="59" lengthAdjust="spacingAndGlyphs" >DJ30,Daily</text><text x="1471" y="763" font-size="13" fill="#6d6d6d" textLength="78" lengthAdjust="spacingAndGlyphs" >CHINA300,H1</text><text x="1571" y="763" font-size="13" fill="#6d6d6d" textLength="34" lengthAdjust="spacingAndGlyphs" >USOil,</text><rect x="109" y="751" width="1" height="14" fill="#6d6d6d"/><rect x="209" y="751" width="1" height="14" fill="#6d6d6d"/><rect x="521" y="751" width="1" height="14" fill="#6d6d6d"/><rect x="625" y="751" width="1" height="14" fill="#6d6d6d"/><rect x="717" y="751" width="1" height="14" fill="#6d6d6d"/><rect x="809" y="751" width="1" height="14" fill="#6d6d6d"/><rect x="881" y="751" width="1" height="14" fill="#6d6d6d"/><rect x="961" y="751" width="1" height="14" fill="#6d6d6d"/><rect x="1041" y="751" width="1" height="14" fill="#6d6d6d"/><rect x="1121" y="751" width="1" height="14" fill="#6d6d6d"/><rect x="1197" y="751" width="1" height="14" fill="#6d6d6d"/><rect x="1296" y="751" width="1" height="14" fill="#6d6d6d"/><rect x="1381" y="751" width="1" height="14" fill="#6d6d6d"/><rect x="1461" y="751" width="1" height="14" fill="#6d6d6d"/><rect x="1561" y="751" width="1" height="14" fill="#6d6d6d"/><rect x="1606" y="750" width="34" height="17" fill="#f0f0f0"/><path d="M1615.5 754 L1615.5 761 L1611.5 757.5 Z" fill="#a0a0a0"/><path d="M1630.5 754 L1630.5 761 L1634.5 757.5 Z" fill="#000"/></svg></body></html>
